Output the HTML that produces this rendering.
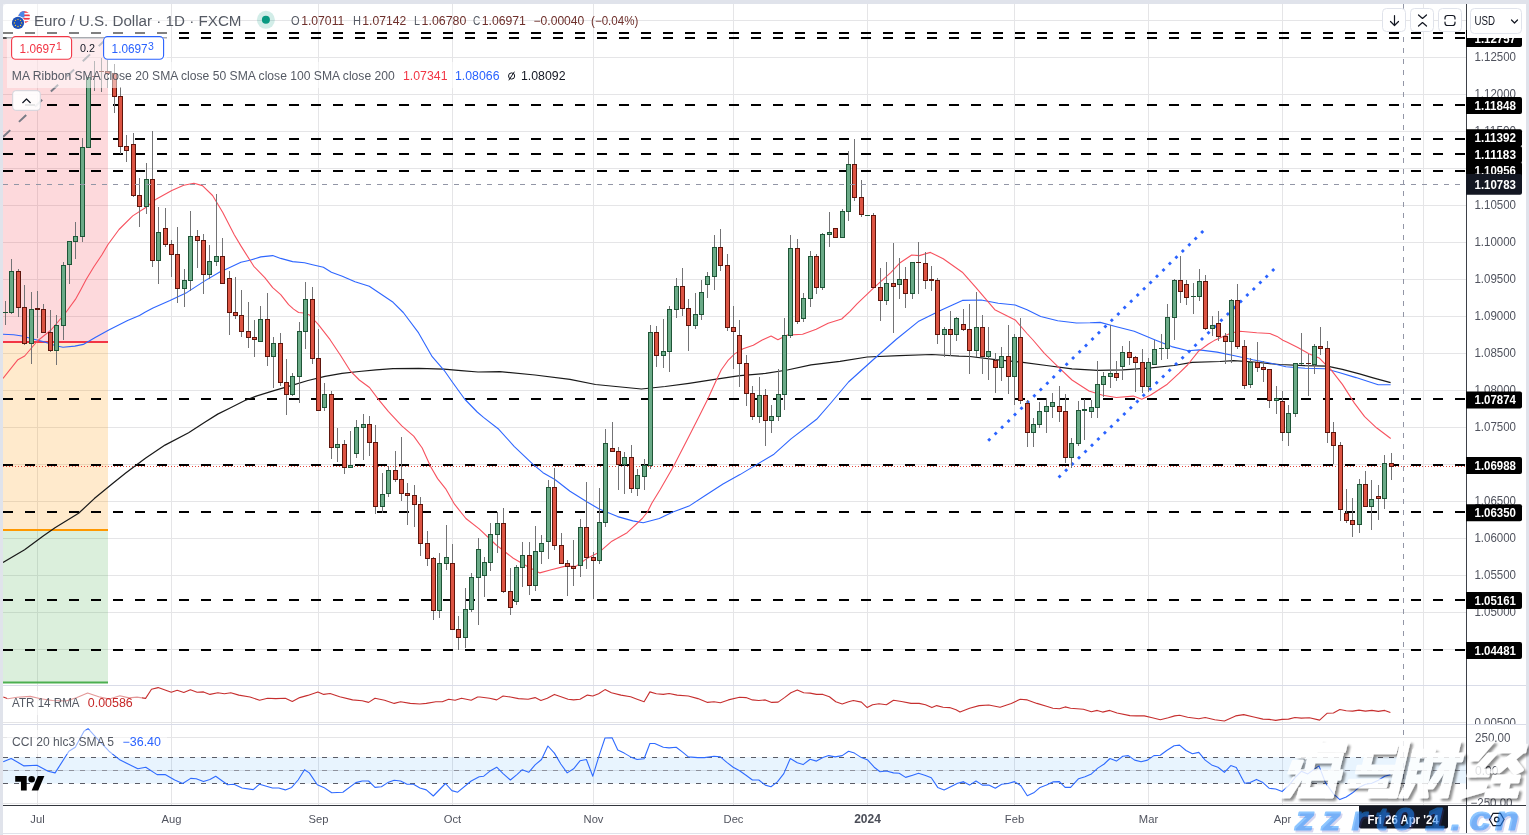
<!DOCTYPE html>
<html><head><meta charset="utf-8"><title>EURUSD chart</title>
<style>
html,body{margin:0;padding:0;background:#e0e3eb;}
body{width:1529px;height:835px;overflow:hidden;font-family:"Liberation Sans",sans-serif;}
svg{display:block;will-change:transform}
text{font-family:"Liberation Sans",sans-serif;}
</style></head><body>
<svg width="1529" height="835" viewBox="0 0 1529 835">
<defs>
<clipPath id="main"><rect x="3" y="4" width="1463" height="681"/></clipPath>
<clipPath id="atr"><rect x="3" y="685" width="1463" height="39"/></clipPath>
<clipPath id="cci"><rect x="3" y="724" width="1463" height="82"/></clipPath>
<clipPath id="axis1"><rect x="1466" y="4" width="60" height="681"/></clipPath>
<clipPath id="axis2"><rect x="1466" y="685" width="60" height="39"/></clipPath>
<clipPath id="axis3"><rect x="1466" y="724" width="60" height="82"/></clipPath>
<filter id="ws" x="-10%" y="-10%" width="130%" height="130%"><feDropShadow dx="2.6" dy="2.6" stdDeviation="1.1" flood-color="#000" flood-opacity="0.55"/></filter>
</defs>
<rect x="0" y="0" width="1529" height="835" fill="#e0e3eb"/>
<path d="M3 833 V8 a4 4 0 0 1 4 -4 H1522 a4 4 0 0 1 4 4 V833 Z" fill="#ffffff"/>
<rect x="3" y="834" width="1523" height="1" fill="#ffffff"/>

<line x1="37.5" y1="4" x2="37.5" y2="806" stroke="#e5e5e7" stroke-width="1"/>
<line x1="171.5" y1="4" x2="171.5" y2="806" stroke="#e5e5e7" stroke-width="1"/>
<line x1="318.5" y1="4" x2="318.5" y2="806" stroke="#e5e5e7" stroke-width="1"/>
<line x1="452.5" y1="4" x2="452.5" y2="806" stroke="#e5e5e7" stroke-width="1"/>
<line x1="593.5" y1="4" x2="593.5" y2="806" stroke="#e5e5e7" stroke-width="1"/>
<line x1="733.5" y1="4" x2="733.5" y2="806" stroke="#e5e5e7" stroke-width="1"/>
<line x1="867.5" y1="4" x2="867.5" y2="806" stroke="#e5e5e7" stroke-width="1"/>
<line x1="1014.5" y1="4" x2="1014.5" y2="806" stroke="#e5e5e7" stroke-width="1"/>
<line x1="1148.5" y1="4" x2="1148.5" y2="806" stroke="#e5e5e7" stroke-width="1"/>
<line x1="1282.5" y1="4" x2="1282.5" y2="806" stroke="#e5e5e7" stroke-width="1"/>
<line x1="1423.5" y1="4" x2="1423.5" y2="806" stroke="#e5e5e7" stroke-width="1"/>
<line x1="3" y1="20.5" x2="1466" y2="20.5" stroke="#e5e5e7" stroke-width="1"/>
<line x1="3" y1="57.5" x2="1466" y2="57.5" stroke="#e5e5e7" stroke-width="1"/>
<line x1="3" y1="94.5" x2="1466" y2="94.5" stroke="#e5e5e7" stroke-width="1"/>
<line x1="3" y1="131.5" x2="1466" y2="131.5" stroke="#e5e5e7" stroke-width="1"/>
<line x1="3" y1="168.5" x2="1466" y2="168.5" stroke="#e5e5e7" stroke-width="1"/>
<line x1="3" y1="205.5" x2="1466" y2="205.5" stroke="#e5e5e7" stroke-width="1"/>
<line x1="3" y1="242.5" x2="1466" y2="242.5" stroke="#e5e5e7" stroke-width="1"/>
<line x1="3" y1="279.5" x2="1466" y2="279.5" stroke="#e5e5e7" stroke-width="1"/>
<line x1="3" y1="316.5" x2="1466" y2="316.5" stroke="#e5e5e7" stroke-width="1"/>
<line x1="3" y1="353.5" x2="1466" y2="353.5" stroke="#e5e5e7" stroke-width="1"/>
<line x1="3" y1="390.5" x2="1466" y2="390.5" stroke="#e5e5e7" stroke-width="1"/>
<line x1="3" y1="427.5" x2="1466" y2="427.5" stroke="#e5e5e7" stroke-width="1"/>
<line x1="3" y1="464.5" x2="1466" y2="464.5" stroke="#e5e5e7" stroke-width="1"/>
<line x1="3" y1="501.5" x2="1466" y2="501.5" stroke="#e5e5e7" stroke-width="1"/>
<line x1="3" y1="538.5" x2="1466" y2="538.5" stroke="#e5e5e7" stroke-width="1"/>
<line x1="3" y1="575.5" x2="1466" y2="575.5" stroke="#e5e5e7" stroke-width="1"/>
<line x1="3" y1="612.5" x2="1466" y2="612.5" stroke="#e5e5e7" stroke-width="1"/>
<line x1="3" y1="649.5" x2="1466" y2="649.5" stroke="#e5e5e7" stroke-width="1"/>
<line x1="3" y1="737.5" x2="1466" y2="737.5" stroke="#e5e5e7" stroke-width="1"/>
<line x1="3" y1="770.5" x2="1466" y2="770.5" stroke="#e5e5e7" stroke-width="1"/>
<line x1="3" y1="803.5" x2="1466" y2="803.5" stroke="#e5e5e7" stroke-width="1"/>
<line x1="3" y1="722.5" x2="1466" y2="722.5" stroke="#e5e5e7" stroke-width="1"/>
<g clip-path="url(#main)">
<rect x="3" y="38" width="105" height="304" fill="#f23645" fill-opacity="0.19"/>
<rect x="3" y="342" width="105" height="188" fill="#ff9800" fill-opacity="0.2"/>
<rect x="3" y="530" width="105" height="152.5" fill="#4caf50" fill-opacity="0.2"/>
<line x1="3" y1="342" x2="108" y2="342" stroke="#f23645" stroke-width="2"/>
<line x1="3" y1="530" x2="108" y2="530" stroke="#ff9800" stroke-width="2"/>
<line x1="3" y1="682.5" x2="108" y2="682.5" stroke="#4caf50" stroke-width="2"/>
<line x1="3" y1="137" x2="109" y2="36.4" stroke="#787b86" stroke-width="2" stroke-dasharray="10 12" stroke-dashoffset="0"/>
<line x1="3" y1="33" x2="1466" y2="33" stroke="#000" stroke-width="2.1" stroke-dasharray="10 12"/>
<line x1="3" y1="38" x2="1466" y2="38" stroke="#000" stroke-width="2.1" stroke-dasharray="10 12"/>
<line x1="3" y1="105" x2="1466" y2="105" stroke="#000" stroke-width="2.1" stroke-dasharray="10 12"/>
<line x1="3" y1="139" x2="1466" y2="139" stroke="#000" stroke-width="2.1" stroke-dasharray="10 12"/>
<line x1="3" y1="154" x2="1466" y2="154" stroke="#000" stroke-width="2.1" stroke-dasharray="10 12"/>
<line x1="3" y1="171" x2="1466" y2="171" stroke="#000" stroke-width="2.1" stroke-dasharray="10 12"/>
<line x1="3" y1="399" x2="1466" y2="399" stroke="#000" stroke-width="2.1" stroke-dasharray="10 12"/>
<line x1="3" y1="465" x2="1466" y2="465" stroke="#000" stroke-width="2.1" stroke-dasharray="10 12"/>
<line x1="3" y1="512" x2="1466" y2="512" stroke="#000" stroke-width="2.1" stroke-dasharray="10 12"/>
<line x1="3" y1="600" x2="1466" y2="600" stroke="#000" stroke-width="2.1" stroke-dasharray="10 12"/>
<line x1="3" y1="650" x2="1466" y2="650" stroke="#000" stroke-width="2.1" stroke-dasharray="10 12"/>
<line x1="3" y1="466.5" x2="1466" y2="466.5" stroke="#e5473b" stroke-width="1" stroke-dasharray="1 2"/>
<path d="M3.0 562.4 L24.6 549.7 L43.2 535.9 L55.0 527.7 L78.6 513.3 L94.3 498.6 L112.0 483.9 L125.7 473.0 L145.4 458.3 L165.0 445.1 L188.6 432.8 L204.0 422.7 L217.7 414.1 L229.6 408.2 L244.9 400.5 L257.0 395.9 L274.0 390.7 L291.0 385.6 L308.0 380.5 L325.0 376.3 L342.0 373.4 L359.0 371.5 L376.0 369.8 L393.0 368.6 L418.6 368.3 L444.0 369.1 L461.0 370.7 L478.0 372.0 L500.0 371.7 L535.0 375.0 L570.0 379.4 L595.5 384.5 L621.0 387.0 L641.4 389.0 L665.2 386.5 L689.0 383.3 L714.6 379.4 L740.0 375.6 L765.6 373.4 L787.3 370.0 L811.0 364.9 L840.0 361.3 L867.2 357.0 L899.5 355.6 L931.8 354.5 L959.0 356.2 L970.0 356.5 L995.5 359.6 L1021.0 362.1 L1046.5 365.5 L1072.0 368.9 L1097.6 370.3 L1123.0 369.8 L1148.6 368.1 L1174.0 365.5 L1192.0 362.4 L1220.0 361.5 L1233.6 360.6 L1254.0 362.0 L1279.5 364.5 L1305.0 365.7 L1327.1 366.1 L1342.4 369.3 L1359.5 373.9 L1373.1 377.8 L1390.6 382.7" fill="none" stroke="#1a1a1a" stroke-width="1.25" stroke-linejoin="round"/>
<path d="M3.0 334.2 L13.6 334.7 L22.0 336.0 L34.0 339.3 L46.0 342.4 L56.0 345.8 L63.0 347.3 L74.8 346.1 L83.3 344.4 L95.2 337.6 L108.8 330.0 L127.6 320.6 L139.5 315.5 L145.4 312.0 L153.0 307.9 L170.0 300.6 L187.0 292.4 L204.0 281.4 L221.0 271.2 L225.0 269.8 L240.9 262.3 L249.9 260.3 L260.8 256.9 L272.7 255.6 L280.7 258.4 L292.6 261.6 L304.5 262.8 L312.5 264.8 L323.4 267.3 L331.4 272.3 L342.3 276.3 L355.0 281.7 L369.3 286.2 L393.1 302.3 L403.3 312.5 L418.6 332.9 L432.2 356.7 L444.1 370.3 L452.3 382.0 L464.6 399.0 L477.2 412.0 L483.5 417.4 L498.8 429.3 L514.1 446.3 L532.8 464.2 L543.0 472.7 L554.9 479.5 L570.0 491.3 L587.2 502.0 L598.7 508.8 L617.6 516.6 L632.8 520.9 L643.2 522.8 L659.3 518.5 L672.9 512.0 L689.0 506.1 L706.0 495.0 L723.0 484.0 L740.0 474.6 L757.0 464.4 L774.0 454.2 L791.0 438.9 L816.6 419.3 L830.0 404.0 L848.5 382.0 L874.0 359.0 L896.1 339.5 L918.2 321.6 L942.0 309.7 L962.4 300.4 L981.2 300.0 L998.2 303.3 L1015.2 305.0 L1027.0 309.7 L1040.7 316.5 L1057.7 320.8 L1076.4 323.0 L1090.0 322.8 L1100.2 322.4 L1115.5 326.5 L1134.2 331.3 L1154.6 339.8 L1171.6 346.6 L1188.2 350.7 L1199.2 349.9 L1217.1 352.1 L1234.6 355.8 L1252.8 359.8 L1269.8 363.0 L1285.9 366.8 L1305.0 368.3 L1325.4 368.8 L1339.0 372.5 L1356.0 377.6 L1378.2 384.8 L1390.6 384.8" fill="none" stroke="#2e66ff" stroke-width="1.1" stroke-linejoin="round"/>
<path d="M3.0 378.4 L17.9 359.7 L24.7 356.0 L37.4 341.0 L51.0 330.0 L55.3 325.0 L61.2 318.0 L66.2 312.0 L75.4 299.4 L80.5 290.2 L86.3 279.3 L93.9 266.7 L101.8 255.0 L108.0 244.5 L119.0 229.5 L132.7 215.9 L144.6 208.3 L156.5 198.9 L171.8 190.4 L183.7 185.3 L193.9 183.3 L202.4 185.6 L212.6 195.5 L222.8 212.5 L234.4 235.0 L240.9 245.9 L253.8 266.3 L264.8 277.7 L272.7 287.7 L280.7 294.6 L288.6 304.6 L293.6 309.1 L298.6 312.5 L303.5 313.0 L309.5 315.0 L318.2 324.4 L330.1 339.7 L340.3 355.0 L350.5 371.2 L359.3 380.0 L369.5 387.5 L378.0 398.9 L388.5 411.7 L401.8 425.9 L413.7 436.1 L422.2 448.0 L430.7 466.7 L437.6 478.6 L446.1 489.4 L454.5 504.2 L465.9 518.5 L479.2 528.9 L496.2 545.0 L513.3 558.3 L526.6 565.9 L539.8 572.9 L551.2 569.7 L564.5 566.4 L575.9 566.4 L587.3 558.3 L598.7 552.6 L611.9 541.2 L627.1 532.7 L642.3 518.5 L647.4 512.0 L651.8 503.3 L660.2 489.5 L673.7 466.1 L689.0 436.3 L699.3 415.9 L707.8 398.9 L716.3 380.2 L721.2 370.0 L727.8 360.7 L734.6 353.9 L743.1 348.7 L753.3 345.3 L761.8 340.2 L771.1 336.0 L777.9 339.7 L787.3 335.1 L802.6 334.3 L816.2 329.2 L828.1 323.2 L841.7 319.0 L850.0 311.3 L857.0 303.8 L874.0 287.6 L891.0 272.3 L900.1 262.7 L911.7 255.0 L919.4 255.6 L930.4 252.4 L943.2 258.7 L962.3 272.2 L976.0 287.6 L994.8 309.7 L1015.2 319.9 L1027.0 333.5 L1033.0 340.0 L1044.4 353.4 L1058.4 367.2 L1072.0 380.0 L1089.0 391.0 L1102.7 395.3 L1116.3 397.5 L1133.3 396.1 L1141.8 399.2 L1150.3 395.3 L1167.3 384.2 L1179.2 373.2 L1187.5 365.0 L1198.4 351.4 L1208.1 344.3 L1214.1 340.6 L1231.2 333.0 L1239.9 331.3 L1256.7 332.7 L1269.8 333.5 L1277.1 336.4 L1282.9 340.2 L1287.3 342.3 L1297.8 347.6 L1308.9 353.8 L1319.1 357.9 L1327.2 366.2 L1330.5 369.1 L1342.4 384.4 L1354.4 403.1 L1364.6 416.7 L1376.5 427.8 L1390.7 438.5" fill="none" stroke="#f7525f" stroke-width="1.1" stroke-linejoin="round"/>
<path d="M987.2 439.8 L989.2 437.8 L991.2 439.8 L989.2 441.8 Z" fill="#2962ff"/>
<path d="M993.7 433.5 L995.7 431.5 L997.7 433.5 L995.7 435.5 Z" fill="#2962ff"/>
<path d="M1000.1 427.2 L1002.1 425.2 L1004.1 427.2 L1002.1 429.2 Z" fill="#2962ff"/>
<path d="M1006.6 420.9 L1008.6 418.9 L1010.6 420.9 L1008.6 422.9 Z" fill="#2962ff"/>
<path d="M1013.0 414.6 L1015.0 412.6 L1017.0 414.6 L1015.0 416.6 Z" fill="#2962ff"/>
<path d="M1019.5 408.3 L1021.5 406.3 L1023.5 408.3 L1021.5 410.3 Z" fill="#2962ff"/>
<path d="M1025.9 402.0 L1027.9 400.0 L1029.9 402.0 L1027.9 404.0 Z" fill="#2962ff"/>
<path d="M1032.4 395.7 L1034.4 393.7 L1036.4 395.7 L1034.4 397.7 Z" fill="#2962ff"/>
<path d="M1038.8 389.4 L1040.8 387.4 L1042.8 389.4 L1040.8 391.4 Z" fill="#2962ff"/>
<path d="M1045.3 383.2 L1047.3 381.2 L1049.3 383.2 L1047.3 385.2 Z" fill="#2962ff"/>
<path d="M1051.7 376.9 L1053.7 374.9 L1055.7 376.9 L1053.7 378.9 Z" fill="#2962ff"/>
<path d="M1058.2 370.6 L1060.2 368.6 L1062.2 370.6 L1060.2 372.6 Z" fill="#2962ff"/>
<path d="M1064.7 364.3 L1066.7 362.3 L1068.7 364.3 L1066.7 366.3 Z" fill="#2962ff"/>
<path d="M1071.1 358.0 L1073.1 356.0 L1075.1 358.0 L1073.1 360.0 Z" fill="#2962ff"/>
<path d="M1077.6 351.7 L1079.6 349.7 L1081.6 351.7 L1079.6 353.7 Z" fill="#2962ff"/>
<path d="M1084.0 345.4 L1086.0 343.4 L1088.0 345.4 L1086.0 347.4 Z" fill="#2962ff"/>
<path d="M1090.5 339.1 L1092.5 337.1 L1094.5 339.1 L1092.5 341.1 Z" fill="#2962ff"/>
<path d="M1096.9 332.8 L1098.9 330.8 L1100.9 332.8 L1098.9 334.8 Z" fill="#2962ff"/>
<path d="M1103.4 326.5 L1105.4 324.5 L1107.4 326.5 L1105.4 328.5 Z" fill="#2962ff"/>
<path d="M1109.8 320.2 L1111.8 318.2 L1113.8 320.2 L1111.8 322.2 Z" fill="#2962ff"/>
<path d="M1116.3 313.9 L1118.3 311.9 L1120.3 313.9 L1118.3 315.9 Z" fill="#2962ff"/>
<path d="M1122.7 307.6 L1124.7 305.6 L1126.7 307.6 L1124.7 309.6 Z" fill="#2962ff"/>
<path d="M1129.2 301.3 L1131.2 299.3 L1133.2 301.3 L1131.2 303.3 Z" fill="#2962ff"/>
<path d="M1135.7 295.0 L1137.7 293.0 L1139.7 295.0 L1137.7 297.0 Z" fill="#2962ff"/>
<path d="M1142.1 288.7 L1144.1 286.7 L1146.1 288.7 L1144.1 290.7 Z" fill="#2962ff"/>
<path d="M1148.6 282.5 L1150.6 280.5 L1152.6 282.5 L1150.6 284.5 Z" fill="#2962ff"/>
<path d="M1155.0 276.2 L1157.0 274.2 L1159.0 276.2 L1157.0 278.2 Z" fill="#2962ff"/>
<path d="M1161.5 269.9 L1163.5 267.9 L1165.5 269.9 L1163.5 271.9 Z" fill="#2962ff"/>
<path d="M1167.9 263.6 L1169.9 261.6 L1171.9 263.6 L1169.9 265.6 Z" fill="#2962ff"/>
<path d="M1174.4 257.3 L1176.4 255.3 L1178.4 257.3 L1176.4 259.3 Z" fill="#2962ff"/>
<path d="M1180.8 251.0 L1182.8 249.0 L1184.8 251.0 L1182.8 253.0 Z" fill="#2962ff"/>
<path d="M1187.3 244.7 L1189.3 242.7 L1191.3 244.7 L1189.3 246.7 Z" fill="#2962ff"/>
<path d="M1193.7 238.4 L1195.7 236.4 L1197.7 238.4 L1195.7 240.4 Z" fill="#2962ff"/>
<path d="M1200.2 232.1 L1202.2 230.1 L1204.2 232.1 L1202.2 234.1 Z" fill="#2962ff"/>
<path d="M1057.6 476.6 L1059.6 474.6 L1061.6 476.6 L1059.6 478.6 Z" fill="#2962ff"/>
<path d="M1064.1 470.3 L1066.1 468.3 L1068.1 470.3 L1066.1 472.3 Z" fill="#2962ff"/>
<path d="M1070.5 464.1 L1072.5 462.1 L1074.5 464.1 L1072.5 466.1 Z" fill="#2962ff"/>
<path d="M1077.0 457.8 L1079.0 455.8 L1081.0 457.8 L1079.0 459.8 Z" fill="#2962ff"/>
<path d="M1083.5 451.6 L1085.5 449.6 L1087.5 451.6 L1085.5 453.6 Z" fill="#2962ff"/>
<path d="M1090.0 445.3 L1092.0 443.3 L1094.0 445.3 L1092.0 447.3 Z" fill="#2962ff"/>
<path d="M1096.4 439.1 L1098.4 437.1 L1100.4 439.1 L1098.4 441.1 Z" fill="#2962ff"/>
<path d="M1102.9 432.8 L1104.9 430.8 L1106.9 432.8 L1104.9 434.8 Z" fill="#2962ff"/>
<path d="M1109.4 426.5 L1111.4 424.5 L1113.4 426.5 L1111.4 428.5 Z" fill="#2962ff"/>
<path d="M1115.9 420.3 L1117.9 418.3 L1119.9 420.3 L1117.9 422.3 Z" fill="#2962ff"/>
<path d="M1122.3 414.0 L1124.3 412.0 L1126.3 414.0 L1124.3 416.0 Z" fill="#2962ff"/>
<path d="M1128.8 407.8 L1130.8 405.8 L1132.8 407.8 L1130.8 409.8 Z" fill="#2962ff"/>
<path d="M1135.3 401.5 L1137.3 399.5 L1139.3 401.5 L1137.3 403.5 Z" fill="#2962ff"/>
<path d="M1141.7 395.3 L1143.7 393.3 L1145.7 395.3 L1143.7 397.3 Z" fill="#2962ff"/>
<path d="M1148.2 389.0 L1150.2 387.0 L1152.2 389.0 L1150.2 391.0 Z" fill="#2962ff"/>
<path d="M1154.7 382.7 L1156.7 380.7 L1158.7 382.7 L1156.7 384.7 Z" fill="#2962ff"/>
<path d="M1161.2 376.5 L1163.2 374.5 L1165.2 376.5 L1163.2 378.5 Z" fill="#2962ff"/>
<path d="M1167.6 370.2 L1169.6 368.2 L1171.6 370.2 L1169.6 372.2 Z" fill="#2962ff"/>
<path d="M1174.1 364.0 L1176.1 362.0 L1178.1 364.0 L1176.1 366.0 Z" fill="#2962ff"/>
<path d="M1180.6 357.7 L1182.6 355.7 L1184.6 357.7 L1182.6 359.7 Z" fill="#2962ff"/>
<path d="M1187.1 351.4 L1189.1 349.4 L1191.1 351.4 L1189.1 353.4 Z" fill="#2962ff"/>
<path d="M1193.5 345.2 L1195.5 343.2 L1197.5 345.2 L1195.5 347.2 Z" fill="#2962ff"/>
<path d="M1200.0 338.9 L1202.0 336.9 L1204.0 338.9 L1202.0 340.9 Z" fill="#2962ff"/>
<path d="M1206.5 332.7 L1208.5 330.7 L1210.5 332.7 L1208.5 334.7 Z" fill="#2962ff"/>
<path d="M1212.9 326.4 L1214.9 324.4 L1216.9 326.4 L1214.9 328.4 Z" fill="#2962ff"/>
<path d="M1219.4 320.2 L1221.4 318.2 L1223.4 320.2 L1221.4 322.2 Z" fill="#2962ff"/>
<path d="M1225.9 313.9 L1227.9 311.9 L1229.9 313.9 L1227.9 315.9 Z" fill="#2962ff"/>
<path d="M1232.4 307.6 L1234.4 305.6 L1236.4 307.6 L1234.4 309.6 Z" fill="#2962ff"/>
<path d="M1238.8 301.4 L1240.8 299.4 L1242.8 301.4 L1240.8 303.4 Z" fill="#2962ff"/>
<path d="M1245.3 295.1 L1247.3 293.1 L1249.3 295.1 L1247.3 297.1 Z" fill="#2962ff"/>
<path d="M1251.8 288.9 L1253.8 286.9 L1255.8 288.9 L1253.8 290.9 Z" fill="#2962ff"/>
<path d="M1258.3 282.6 L1260.3 280.6 L1262.3 282.6 L1260.3 284.6 Z" fill="#2962ff"/>
<path d="M1264.7 276.4 L1266.7 274.4 L1268.7 276.4 L1266.7 278.4 Z" fill="#2962ff"/>
<path d="M1271.2 270.1 L1273.2 268.1 L1275.2 270.1 L1273.2 272.1 Z" fill="#2962ff"/>
<line x1="5.5" y1="301" x2="5.5" y2="325" stroke="#737375" stroke-width="1"/>
<rect x="3.0" y="312" width="5" height="1" fill="#1f5537"/>
<line x1="11.5" y1="259" x2="11.5" y2="314" stroke="#737375" stroke-width="1"/>
<rect x="9.5" y="271.5" width="4" height="41" fill="#6aaa87" stroke="#1f5537" stroke-width="1"/>
<line x1="18.5" y1="269" x2="18.5" y2="317" stroke="#737375" stroke-width="1"/>
<rect x="16.5" y="271.5" width="4" height="36" fill="#dc5443" stroke="#5e150c" stroke-width="1"/>
<line x1="24.5" y1="285" x2="24.5" y2="345" stroke="#737375" stroke-width="1"/>
<rect x="22.5" y="307.5" width="4" height="36" fill="#dc5443" stroke="#5e150c" stroke-width="1"/>
<line x1="31.5" y1="292" x2="31.5" y2="364" stroke="#737375" stroke-width="1"/>
<rect x="29.5" y="309.5" width="4" height="34" fill="#6aaa87" stroke="#1f5537" stroke-width="1"/>
<line x1="37.5" y1="291" x2="37.5" y2="338" stroke="#737375" stroke-width="1"/>
<rect x="35.0" y="308" width="5" height="2" fill="#5e150c"/>
<line x1="43.5" y1="304" x2="43.5" y2="333" stroke="#737375" stroke-width="1"/>
<rect x="41.5" y="309.5" width="4" height="23" fill="#dc5443" stroke="#5e150c" stroke-width="1"/>
<line x1="50.5" y1="310" x2="50.5" y2="352" stroke="#737375" stroke-width="1"/>
<rect x="48.5" y="332.5" width="4" height="18" fill="#dc5443" stroke="#5e150c" stroke-width="1"/>
<line x1="56.5" y1="315" x2="56.5" y2="365" stroke="#737375" stroke-width="1"/>
<rect x="54.5" y="325.5" width="4" height="25" fill="#6aaa87" stroke="#1f5537" stroke-width="1"/>
<line x1="63.5" y1="262" x2="63.5" y2="340" stroke="#737375" stroke-width="1"/>
<rect x="61.5" y="265.5" width="4" height="60" fill="#6aaa87" stroke="#1f5537" stroke-width="1"/>
<line x1="69.5" y1="241" x2="69.5" y2="284" stroke="#737375" stroke-width="1"/>
<rect x="67.5" y="241.5" width="4" height="23" fill="#6aaa87" stroke="#1f5537" stroke-width="1"/>
<line x1="75.5" y1="222" x2="75.5" y2="259" stroke="#737375" stroke-width="1"/>
<rect x="73.5" y="236.5" width="4" height="5" fill="#6aaa87" stroke="#1f5537" stroke-width="1"/>
<line x1="82.5" y1="138" x2="82.5" y2="242" stroke="#737375" stroke-width="1"/>
<rect x="80.5" y="147.5" width="4" height="89" fill="#6aaa87" stroke="#1f5537" stroke-width="1"/>
<line x1="88.5" y1="75" x2="88.5" y2="148" stroke="#737375" stroke-width="1"/>
<rect x="86.5" y="77.5" width="4" height="70" fill="#6aaa87" stroke="#1f5537" stroke-width="1"/>
<line x1="94.5" y1="61" x2="94.5" y2="91" stroke="#737375" stroke-width="1"/>
<rect x="92.0" y="76" width="5" height="1" fill="#5e150c"/>
<line x1="101.5" y1="58" x2="101.5" y2="92" stroke="#737375" stroke-width="1"/>
<rect x="99.0" y="71" width="5" height="1" fill="#5e150c"/>
<line x1="107.5" y1="60" x2="107.5" y2="88" stroke="#737375" stroke-width="1"/>
<rect x="105.5" y="71.5" width="4" height="2" fill="#dc5443" stroke="#5e150c" stroke-width="1"/>
<line x1="114.5" y1="64" x2="114.5" y2="113" stroke="#737375" stroke-width="1"/>
<rect x="112.5" y="73.5" width="4" height="23" fill="#dc5443" stroke="#5e150c" stroke-width="1"/>
<line x1="120.5" y1="87" x2="120.5" y2="154" stroke="#737375" stroke-width="1"/>
<rect x="118.5" y="96.5" width="4" height="50" fill="#dc5443" stroke="#5e150c" stroke-width="1"/>
<line x1="126.5" y1="135" x2="126.5" y2="162" stroke="#737375" stroke-width="1"/>
<rect x="124.5" y="146.5" width="4" height="4" fill="#dc5443" stroke="#5e150c" stroke-width="1"/>
<line x1="133.5" y1="133" x2="133.5" y2="197" stroke="#737375" stroke-width="1"/>
<rect x="131.5" y="144.5" width="4" height="51" fill="#dc5443" stroke="#5e150c" stroke-width="1"/>
<line x1="139.5" y1="178" x2="139.5" y2="227" stroke="#737375" stroke-width="1"/>
<rect x="137.5" y="195.5" width="4" height="11" fill="#dc5443" stroke="#5e150c" stroke-width="1"/>
<line x1="146.5" y1="163" x2="146.5" y2="214" stroke="#737375" stroke-width="1"/>
<rect x="144.5" y="179.5" width="4" height="27" fill="#6aaa87" stroke="#1f5537" stroke-width="1"/>
<line x1="152.5" y1="131" x2="152.5" y2="267" stroke="#737375" stroke-width="1"/>
<rect x="150.5" y="179.5" width="4" height="81" fill="#dc5443" stroke="#5e150c" stroke-width="1"/>
<line x1="158.5" y1="207" x2="158.5" y2="284" stroke="#737375" stroke-width="1"/>
<rect x="156.5" y="232.5" width="4" height="28" fill="#6aaa87" stroke="#1f5537" stroke-width="1"/>
<line x1="165.5" y1="208" x2="165.5" y2="247" stroke="#737375" stroke-width="1"/>
<rect x="163.5" y="228.5" width="4" height="16" fill="#dc5443" stroke="#5e150c" stroke-width="1"/>
<line x1="171.5" y1="240" x2="171.5" y2="277" stroke="#737375" stroke-width="1"/>
<rect x="169.5" y="244.5" width="4" height="10" fill="#dc5443" stroke="#5e150c" stroke-width="1"/>
<line x1="177.5" y1="227" x2="177.5" y2="303" stroke="#737375" stroke-width="1"/>
<rect x="175.5" y="254.5" width="4" height="34" fill="#dc5443" stroke="#5e150c" stroke-width="1"/>
<line x1="184.5" y1="269" x2="184.5" y2="307" stroke="#737375" stroke-width="1"/>
<rect x="182.5" y="280.5" width="4" height="8" fill="#6aaa87" stroke="#1f5537" stroke-width="1"/>
<line x1="190.5" y1="211" x2="190.5" y2="291" stroke="#737375" stroke-width="1"/>
<rect x="188.5" y="236.5" width="4" height="44" fill="#6aaa87" stroke="#1f5537" stroke-width="1"/>
<line x1="197.5" y1="230" x2="197.5" y2="268" stroke="#737375" stroke-width="1"/>
<rect x="195.5" y="236.5" width="4" height="4" fill="#dc5443" stroke="#5e150c" stroke-width="1"/>
<line x1="203.5" y1="234" x2="203.5" y2="294" stroke="#737375" stroke-width="1"/>
<rect x="201.5" y="240.5" width="4" height="34" fill="#dc5443" stroke="#5e150c" stroke-width="1"/>
<line x1="209.5" y1="245" x2="209.5" y2="279" stroke="#737375" stroke-width="1"/>
<rect x="207.5" y="261.5" width="4" height="13" fill="#6aaa87" stroke="#1f5537" stroke-width="1"/>
<line x1="216.5" y1="194" x2="216.5" y2="266" stroke="#737375" stroke-width="1"/>
<rect x="214.5" y="256.5" width="4" height="5" fill="#6aaa87" stroke="#1f5537" stroke-width="1"/>
<line x1="222.5" y1="238" x2="222.5" y2="284" stroke="#737375" stroke-width="1"/>
<rect x="220.5" y="256.5" width="4" height="27" fill="#dc5443" stroke="#5e150c" stroke-width="1"/>
<line x1="229.5" y1="271" x2="229.5" y2="335" stroke="#737375" stroke-width="1"/>
<rect x="227.5" y="278.5" width="4" height="34" fill="#dc5443" stroke="#5e150c" stroke-width="1"/>
<line x1="235.5" y1="277" x2="235.5" y2="319" stroke="#737375" stroke-width="1"/>
<rect x="233.5" y="312.5" width="4" height="3" fill="#dc5443" stroke="#5e150c" stroke-width="1"/>
<line x1="241.5" y1="290" x2="241.5" y2="337" stroke="#737375" stroke-width="1"/>
<rect x="239.5" y="315.5" width="4" height="16" fill="#dc5443" stroke="#5e150c" stroke-width="1"/>
<line x1="248.5" y1="302" x2="248.5" y2="348" stroke="#737375" stroke-width="1"/>
<rect x="246.5" y="331.5" width="4" height="6" fill="#dc5443" stroke="#5e150c" stroke-width="1"/>
<line x1="254.5" y1="320" x2="254.5" y2="357" stroke="#737375" stroke-width="1"/>
<rect x="252.5" y="337.5" width="4" height="2" fill="#dc5443" stroke="#5e150c" stroke-width="1"/>
<line x1="260.5" y1="306" x2="260.5" y2="342" stroke="#737375" stroke-width="1"/>
<rect x="258.5" y="319.5" width="4" height="22" fill="#6aaa87" stroke="#1f5537" stroke-width="1"/>
<line x1="267.5" y1="293" x2="267.5" y2="366" stroke="#737375" stroke-width="1"/>
<rect x="265.5" y="319.5" width="4" height="37" fill="#dc5443" stroke="#5e150c" stroke-width="1"/>
<line x1="273.5" y1="337" x2="273.5" y2="388" stroke="#737375" stroke-width="1"/>
<rect x="271.5" y="343.5" width="4" height="13" fill="#6aaa87" stroke="#1f5537" stroke-width="1"/>
<line x1="280.5" y1="333" x2="280.5" y2="386" stroke="#737375" stroke-width="1"/>
<rect x="278.5" y="343.5" width="4" height="39" fill="#dc5443" stroke="#5e150c" stroke-width="1"/>
<line x1="286.5" y1="359" x2="286.5" y2="415" stroke="#737375" stroke-width="1"/>
<rect x="284.5" y="382.5" width="4" height="12" fill="#dc5443" stroke="#5e150c" stroke-width="1"/>
<line x1="292.5" y1="373" x2="292.5" y2="396" stroke="#737375" stroke-width="1"/>
<rect x="290.5" y="376.5" width="4" height="18" fill="#6aaa87" stroke="#1f5537" stroke-width="1"/>
<line x1="299.5" y1="322" x2="299.5" y2="403" stroke="#737375" stroke-width="1"/>
<rect x="297.5" y="331.5" width="4" height="45" fill="#6aaa87" stroke="#1f5537" stroke-width="1"/>
<line x1="305.5" y1="282" x2="305.5" y2="349" stroke="#737375" stroke-width="1"/>
<rect x="303.5" y="299.5" width="4" height="32" fill="#6aaa87" stroke="#1f5537" stroke-width="1"/>
<line x1="312.5" y1="287" x2="312.5" y2="364" stroke="#737375" stroke-width="1"/>
<rect x="310.5" y="299.5" width="4" height="59" fill="#dc5443" stroke="#5e150c" stroke-width="1"/>
<line x1="318.5" y1="329" x2="318.5" y2="411" stroke="#737375" stroke-width="1"/>
<rect x="316.5" y="358.5" width="4" height="52" fill="#dc5443" stroke="#5e150c" stroke-width="1"/>
<line x1="324.5" y1="383" x2="324.5" y2="411" stroke="#737375" stroke-width="1"/>
<rect x="322.5" y="394.5" width="4" height="13" fill="#6aaa87" stroke="#1f5537" stroke-width="1"/>
<line x1="331.5" y1="391" x2="331.5" y2="459" stroke="#737375" stroke-width="1"/>
<rect x="329.5" y="394.5" width="4" height="53" fill="#dc5443" stroke="#5e150c" stroke-width="1"/>
<line x1="337.5" y1="428" x2="337.5" y2="462" stroke="#737375" stroke-width="1"/>
<rect x="335.5" y="444.5" width="4" height="3" fill="#6aaa87" stroke="#1f5537" stroke-width="1"/>
<line x1="344.5" y1="440" x2="344.5" y2="474" stroke="#737375" stroke-width="1"/>
<rect x="342.5" y="444.5" width="4" height="23" fill="#dc5443" stroke="#5e150c" stroke-width="1"/>
<line x1="350.5" y1="431" x2="350.5" y2="468" stroke="#737375" stroke-width="1"/>
<rect x="348.5" y="465.5" width="4" height="2" fill="#6aaa87" stroke="#1f5537" stroke-width="1"/>
<line x1="356.5" y1="420" x2="356.5" y2="458" stroke="#737375" stroke-width="1"/>
<rect x="354.5" y="427.5" width="4" height="26" fill="#6aaa87" stroke="#1f5537" stroke-width="1"/>
<line x1="363.5" y1="414" x2="363.5" y2="460" stroke="#737375" stroke-width="1"/>
<rect x="361.5" y="424.5" width="4" height="3" fill="#6aaa87" stroke="#1f5537" stroke-width="1"/>
<line x1="369.5" y1="416" x2="369.5" y2="456" stroke="#737375" stroke-width="1"/>
<rect x="367.5" y="424.5" width="4" height="18" fill="#dc5443" stroke="#5e150c" stroke-width="1"/>
<line x1="375.5" y1="425" x2="375.5" y2="514" stroke="#737375" stroke-width="1"/>
<rect x="373.5" y="442.5" width="4" height="64" fill="#dc5443" stroke="#5e150c" stroke-width="1"/>
<line x1="382.5" y1="473" x2="382.5" y2="513" stroke="#737375" stroke-width="1"/>
<rect x="380.5" y="494.5" width="4" height="12" fill="#6aaa87" stroke="#1f5537" stroke-width="1"/>
<line x1="388.5" y1="466" x2="388.5" y2="497" stroke="#737375" stroke-width="1"/>
<rect x="386.5" y="470.5" width="4" height="23" fill="#6aaa87" stroke="#1f5537" stroke-width="1"/>
<line x1="395.5" y1="451" x2="395.5" y2="482" stroke="#737375" stroke-width="1"/>
<rect x="393.5" y="470.5" width="4" height="9" fill="#dc5443" stroke="#5e150c" stroke-width="1"/>
<line x1="401.5" y1="437" x2="401.5" y2="501" stroke="#737375" stroke-width="1"/>
<rect x="399.5" y="479.5" width="4" height="14" fill="#dc5443" stroke="#5e150c" stroke-width="1"/>
<line x1="407.5" y1="483" x2="407.5" y2="525" stroke="#737375" stroke-width="1"/>
<rect x="405.5" y="493.5" width="4" height="2" fill="#dc5443" stroke="#5e150c" stroke-width="1"/>
<line x1="414.5" y1="485" x2="414.5" y2="527" stroke="#737375" stroke-width="1"/>
<rect x="412.5" y="495.5" width="4" height="9" fill="#dc5443" stroke="#5e150c" stroke-width="1"/>
<line x1="420.5" y1="497" x2="420.5" y2="556" stroke="#737375" stroke-width="1"/>
<rect x="418.5" y="504.5" width="4" height="39" fill="#dc5443" stroke="#5e150c" stroke-width="1"/>
<line x1="427.5" y1="531" x2="427.5" y2="566" stroke="#737375" stroke-width="1"/>
<rect x="425.5" y="543.5" width="4" height="15" fill="#dc5443" stroke="#5e150c" stroke-width="1"/>
<line x1="433.5" y1="557" x2="433.5" y2="620" stroke="#737375" stroke-width="1"/>
<rect x="431.5" y="558.5" width="4" height="52" fill="#dc5443" stroke="#5e150c" stroke-width="1"/>
<line x1="439.5" y1="553" x2="439.5" y2="618" stroke="#737375" stroke-width="1"/>
<rect x="437.5" y="563.5" width="4" height="47" fill="#6aaa87" stroke="#1f5537" stroke-width="1"/>
<line x1="446.5" y1="525" x2="446.5" y2="570" stroke="#737375" stroke-width="1"/>
<rect x="444.5" y="557.5" width="4" height="6" fill="#6aaa87" stroke="#1f5537" stroke-width="1"/>
<line x1="452.5" y1="544" x2="452.5" y2="630" stroke="#737375" stroke-width="1"/>
<rect x="450.5" y="563.5" width="4" height="66" fill="#dc5443" stroke="#5e150c" stroke-width="1"/>
<line x1="458.5" y1="616" x2="458.5" y2="650" stroke="#737375" stroke-width="1"/>
<rect x="456.5" y="629.5" width="4" height="8" fill="#dc5443" stroke="#5e150c" stroke-width="1"/>
<line x1="465.5" y1="588" x2="465.5" y2="648" stroke="#737375" stroke-width="1"/>
<rect x="463.5" y="609.5" width="4" height="28" fill="#6aaa87" stroke="#1f5537" stroke-width="1"/>
<line x1="471.5" y1="573" x2="471.5" y2="612" stroke="#737375" stroke-width="1"/>
<rect x="469.5" y="577.5" width="4" height="32" fill="#6aaa87" stroke="#1f5537" stroke-width="1"/>
<line x1="478.5" y1="538" x2="478.5" y2="625" stroke="#737375" stroke-width="1"/>
<rect x="476.5" y="549.5" width="4" height="28" fill="#6aaa87" stroke="#1f5537" stroke-width="1"/>
<line x1="484.5" y1="557" x2="484.5" y2="597" stroke="#737375" stroke-width="1"/>
<rect x="482.5" y="562.5" width="4" height="13" fill="#6aaa87" stroke="#1f5537" stroke-width="1"/>
<line x1="490.5" y1="523" x2="490.5" y2="571" stroke="#737375" stroke-width="1"/>
<rect x="488.5" y="534.5" width="4" height="28" fill="#6aaa87" stroke="#1f5537" stroke-width="1"/>
<line x1="497.5" y1="512" x2="497.5" y2="553" stroke="#737375" stroke-width="1"/>
<rect x="495.5" y="523.5" width="4" height="11" fill="#6aaa87" stroke="#1f5537" stroke-width="1"/>
<line x1="503.5" y1="508" x2="503.5" y2="593" stroke="#737375" stroke-width="1"/>
<rect x="501.5" y="523.5" width="4" height="68" fill="#dc5443" stroke="#5e150c" stroke-width="1"/>
<line x1="510.5" y1="568" x2="510.5" y2="615" stroke="#737375" stroke-width="1"/>
<rect x="508.5" y="591.5" width="4" height="16" fill="#dc5443" stroke="#5e150c" stroke-width="1"/>
<line x1="516.5" y1="565" x2="516.5" y2="605" stroke="#737375" stroke-width="1"/>
<rect x="514.5" y="567.5" width="4" height="34" fill="#6aaa87" stroke="#1f5537" stroke-width="1"/>
<line x1="522.5" y1="542" x2="522.5" y2="587" stroke="#737375" stroke-width="1"/>
<rect x="520.5" y="555.5" width="4" height="12" fill="#6aaa87" stroke="#1f5537" stroke-width="1"/>
<line x1="529.5" y1="542" x2="529.5" y2="595" stroke="#737375" stroke-width="1"/>
<rect x="527.5" y="555.5" width="4" height="30" fill="#dc5443" stroke="#5e150c" stroke-width="1"/>
<line x1="535.5" y1="526" x2="535.5" y2="591" stroke="#737375" stroke-width="1"/>
<rect x="533.5" y="551.5" width="4" height="34" fill="#6aaa87" stroke="#1f5537" stroke-width="1"/>
<line x1="541.5" y1="535" x2="541.5" y2="564" stroke="#737375" stroke-width="1"/>
<rect x="539.5" y="543.5" width="4" height="8" fill="#6aaa87" stroke="#1f5537" stroke-width="1"/>
<line x1="548.5" y1="480" x2="548.5" y2="559" stroke="#737375" stroke-width="1"/>
<rect x="546.5" y="487.5" width="4" height="54" fill="#6aaa87" stroke="#1f5537" stroke-width="1"/>
<line x1="554.5" y1="468" x2="554.5" y2="550" stroke="#737375" stroke-width="1"/>
<rect x="552.5" y="487.5" width="4" height="58" fill="#dc5443" stroke="#5e150c" stroke-width="1"/>
<line x1="561.5" y1="533" x2="561.5" y2="564" stroke="#737375" stroke-width="1"/>
<rect x="559.5" y="545.5" width="4" height="18" fill="#dc5443" stroke="#5e150c" stroke-width="1"/>
<line x1="567.5" y1="560" x2="567.5" y2="596" stroke="#737375" stroke-width="1"/>
<rect x="565.5" y="563.5" width="4" height="3" fill="#dc5443" stroke="#5e150c" stroke-width="1"/>
<line x1="573.5" y1="540" x2="573.5" y2="586" stroke="#737375" stroke-width="1"/>
<rect x="571.5" y="566.5" width="4" height="2" fill="#dc5443" stroke="#5e150c" stroke-width="1"/>
<line x1="580.5" y1="519" x2="580.5" y2="577" stroke="#737375" stroke-width="1"/>
<rect x="578.5" y="527.5" width="4" height="38" fill="#6aaa87" stroke="#1f5537" stroke-width="1"/>
<line x1="586.5" y1="482" x2="586.5" y2="569" stroke="#737375" stroke-width="1"/>
<rect x="584.5" y="527.5" width="4" height="30" fill="#dc5443" stroke="#5e150c" stroke-width="1"/>
<line x1="593.5" y1="552" x2="593.5" y2="599" stroke="#737375" stroke-width="1"/>
<rect x="591.5" y="557.5" width="4" height="3" fill="#dc5443" stroke="#5e150c" stroke-width="1"/>
<line x1="599.5" y1="488" x2="599.5" y2="564" stroke="#737375" stroke-width="1"/>
<rect x="597.5" y="522.5" width="4" height="38" fill="#6aaa87" stroke="#1f5537" stroke-width="1"/>
<line x1="605.5" y1="429" x2="605.5" y2="527" stroke="#737375" stroke-width="1"/>
<rect x="603.5" y="443.5" width="4" height="79" fill="#6aaa87" stroke="#1f5537" stroke-width="1"/>
<line x1="612.5" y1="422" x2="612.5" y2="452" stroke="#737375" stroke-width="1"/>
<rect x="610.5" y="448.5" width="4" height="3" fill="#dc5443" stroke="#5e150c" stroke-width="1"/>
<line x1="618.5" y1="447" x2="618.5" y2="490" stroke="#737375" stroke-width="1"/>
<rect x="616.5" y="451.5" width="4" height="13" fill="#dc5443" stroke="#5e150c" stroke-width="1"/>
<line x1="624.5" y1="452" x2="624.5" y2="494" stroke="#737375" stroke-width="1"/>
<rect x="622.5" y="457.5" width="4" height="7" fill="#6aaa87" stroke="#1f5537" stroke-width="1"/>
<line x1="631.5" y1="445" x2="631.5" y2="493" stroke="#737375" stroke-width="1"/>
<rect x="629.5" y="457.5" width="4" height="31" fill="#dc5443" stroke="#5e150c" stroke-width="1"/>
<line x1="637.5" y1="469" x2="637.5" y2="496" stroke="#737375" stroke-width="1"/>
<rect x="635.5" y="475.5" width="4" height="13" fill="#6aaa87" stroke="#1f5537" stroke-width="1"/>
<line x1="644.5" y1="459" x2="644.5" y2="490" stroke="#737375" stroke-width="1"/>
<rect x="642.5" y="465.5" width="4" height="11" fill="#6aaa87" stroke="#1f5537" stroke-width="1"/>
<line x1="650.5" y1="325" x2="650.5" y2="469" stroke="#737375" stroke-width="1"/>
<rect x="648.5" y="332.5" width="4" height="133" fill="#6aaa87" stroke="#1f5537" stroke-width="1"/>
<line x1="656.5" y1="326" x2="656.5" y2="367" stroke="#737375" stroke-width="1"/>
<rect x="654.5" y="332.5" width="4" height="23" fill="#dc5443" stroke="#5e150c" stroke-width="1"/>
<line x1="663.5" y1="319" x2="663.5" y2="368" stroke="#737375" stroke-width="1"/>
<rect x="661.5" y="351.5" width="4" height="4" fill="#6aaa87" stroke="#1f5537" stroke-width="1"/>
<line x1="669.5" y1="306" x2="669.5" y2="372" stroke="#737375" stroke-width="1"/>
<rect x="667.5" y="309.5" width="4" height="42" fill="#6aaa87" stroke="#1f5537" stroke-width="1"/>
<line x1="676.5" y1="278" x2="676.5" y2="318" stroke="#737375" stroke-width="1"/>
<rect x="674.5" y="286.5" width="4" height="23" fill="#6aaa87" stroke="#1f5537" stroke-width="1"/>
<line x1="682.5" y1="268" x2="682.5" y2="316" stroke="#737375" stroke-width="1"/>
<rect x="680.5" y="286.5" width="4" height="22" fill="#dc5443" stroke="#5e150c" stroke-width="1"/>
<line x1="688.5" y1="299" x2="688.5" y2="351" stroke="#737375" stroke-width="1"/>
<rect x="686.5" y="308.5" width="4" height="17" fill="#dc5443" stroke="#5e150c" stroke-width="1"/>
<line x1="695.5" y1="293" x2="695.5" y2="329" stroke="#737375" stroke-width="1"/>
<rect x="693.5" y="314.5" width="4" height="11" fill="#6aaa87" stroke="#1f5537" stroke-width="1"/>
<line x1="701.5" y1="280" x2="701.5" y2="320" stroke="#737375" stroke-width="1"/>
<rect x="699.5" y="292.5" width="4" height="22" fill="#6aaa87" stroke="#1f5537" stroke-width="1"/>
<line x1="707.5" y1="272" x2="707.5" y2="298" stroke="#737375" stroke-width="1"/>
<rect x="705.5" y="276.5" width="4" height="8" fill="#6aaa87" stroke="#1f5537" stroke-width="1"/>
<line x1="714.5" y1="235" x2="714.5" y2="290" stroke="#737375" stroke-width="1"/>
<rect x="712.5" y="247.5" width="4" height="29" fill="#6aaa87" stroke="#1f5537" stroke-width="1"/>
<line x1="720.5" y1="229" x2="720.5" y2="271" stroke="#737375" stroke-width="1"/>
<rect x="718.5" y="247.5" width="4" height="18" fill="#dc5443" stroke="#5e150c" stroke-width="1"/>
<line x1="727.5" y1="254" x2="727.5" y2="331" stroke="#737375" stroke-width="1"/>
<rect x="725.5" y="265.5" width="4" height="62" fill="#dc5443" stroke="#5e150c" stroke-width="1"/>
<line x1="733.5" y1="306" x2="733.5" y2="369" stroke="#737375" stroke-width="1"/>
<rect x="731.5" y="327.5" width="4" height="4" fill="#dc5443" stroke="#5e150c" stroke-width="1"/>
<line x1="739.5" y1="320" x2="739.5" y2="387" stroke="#737375" stroke-width="1"/>
<rect x="737.5" y="335.5" width="4" height="28" fill="#dc5443" stroke="#5e150c" stroke-width="1"/>
<line x1="746.5" y1="355" x2="746.5" y2="406" stroke="#737375" stroke-width="1"/>
<rect x="744.5" y="363.5" width="4" height="30" fill="#dc5443" stroke="#5e150c" stroke-width="1"/>
<line x1="752.5" y1="386" x2="752.5" y2="420" stroke="#737375" stroke-width="1"/>
<rect x="750.5" y="393.5" width="4" height="23" fill="#dc5443" stroke="#5e150c" stroke-width="1"/>
<line x1="759.5" y1="377" x2="759.5" y2="423" stroke="#737375" stroke-width="1"/>
<rect x="757.5" y="395.5" width="4" height="21" fill="#6aaa87" stroke="#1f5537" stroke-width="1"/>
<line x1="765.5" y1="389" x2="765.5" y2="446" stroke="#737375" stroke-width="1"/>
<rect x="763.5" y="395.5" width="4" height="25" fill="#dc5443" stroke="#5e150c" stroke-width="1"/>
<line x1="771.5" y1="405" x2="771.5" y2="433" stroke="#737375" stroke-width="1"/>
<rect x="769.5" y="416.5" width="4" height="4" fill="#6aaa87" stroke="#1f5537" stroke-width="1"/>
<line x1="778.5" y1="369" x2="778.5" y2="421" stroke="#737375" stroke-width="1"/>
<rect x="776.5" y="394.5" width="4" height="22" fill="#6aaa87" stroke="#1f5537" stroke-width="1"/>
<line x1="784.5" y1="318" x2="784.5" y2="410" stroke="#737375" stroke-width="1"/>
<rect x="782.5" y="335.5" width="4" height="59" fill="#6aaa87" stroke="#1f5537" stroke-width="1"/>
<line x1="790.5" y1="235" x2="790.5" y2="338" stroke="#737375" stroke-width="1"/>
<rect x="788.5" y="248.5" width="4" height="87" fill="#6aaa87" stroke="#1f5537" stroke-width="1"/>
<line x1="797.5" y1="239" x2="797.5" y2="324" stroke="#737375" stroke-width="1"/>
<rect x="795.5" y="248.5" width="4" height="73" fill="#dc5443" stroke="#5e150c" stroke-width="1"/>
<line x1="803.5" y1="293" x2="803.5" y2="322" stroke="#737375" stroke-width="1"/>
<rect x="801.5" y="298.5" width="4" height="20" fill="#6aaa87" stroke="#1f5537" stroke-width="1"/>
<line x1="810.5" y1="251" x2="810.5" y2="307" stroke="#737375" stroke-width="1"/>
<rect x="808.5" y="256.5" width="4" height="42" fill="#6aaa87" stroke="#1f5537" stroke-width="1"/>
<line x1="816.5" y1="254" x2="816.5" y2="294" stroke="#737375" stroke-width="1"/>
<rect x="814.5" y="256.5" width="4" height="31" fill="#dc5443" stroke="#5e150c" stroke-width="1"/>
<line x1="822.5" y1="233" x2="822.5" y2="290" stroke="#737375" stroke-width="1"/>
<rect x="820.5" y="234.5" width="4" height="53" fill="#6aaa87" stroke="#1f5537" stroke-width="1"/>
<line x1="829.5" y1="212" x2="829.5" y2="247" stroke="#737375" stroke-width="1"/>
<rect x="827.5" y="232.5" width="4" height="2" fill="#6aaa87" stroke="#1f5537" stroke-width="1"/>
<line x1="835.5" y1="228" x2="835.5" y2="238" stroke="#737375" stroke-width="1"/>
<rect x="833.5" y="228.5" width="4" height="9" fill="#dc5443" stroke="#5e150c" stroke-width="1"/>
<line x1="842.5" y1="209" x2="842.5" y2="238" stroke="#737375" stroke-width="1"/>
<rect x="840.5" y="211.5" width="4" height="26" fill="#6aaa87" stroke="#1f5537" stroke-width="1"/>
<line x1="848.5" y1="151" x2="848.5" y2="221" stroke="#737375" stroke-width="1"/>
<rect x="846.5" y="164.5" width="4" height="47" fill="#6aaa87" stroke="#1f5537" stroke-width="1"/>
<line x1="854.5" y1="139" x2="854.5" y2="201" stroke="#737375" stroke-width="1"/>
<rect x="852.5" y="164.5" width="4" height="33" fill="#dc5443" stroke="#5e150c" stroke-width="1"/>
<line x1="861.5" y1="180" x2="861.5" y2="217" stroke="#737375" stroke-width="1"/>
<rect x="859.5" y="197.5" width="4" height="17" fill="#dc5443" stroke="#5e150c" stroke-width="1"/>
<line x1="867.5" y1="215" x2="867.5" y2="216" stroke="#737375" stroke-width="1"/>
<rect x="865.0" y="215" width="5" height="1" fill="#1f5537"/>
<line x1="873.5" y1="213" x2="873.5" y2="288" stroke="#737375" stroke-width="1"/>
<rect x="871.5" y="215.5" width="4" height="72" fill="#dc5443" stroke="#5e150c" stroke-width="1"/>
<line x1="880.5" y1="268" x2="880.5" y2="321" stroke="#737375" stroke-width="1"/>
<rect x="878.5" y="287.5" width="4" height="13" fill="#dc5443" stroke="#5e150c" stroke-width="1"/>
<line x1="886.5" y1="262" x2="886.5" y2="305" stroke="#737375" stroke-width="1"/>
<rect x="884.5" y="283.5" width="4" height="17" fill="#6aaa87" stroke="#1f5537" stroke-width="1"/>
<line x1="893.5" y1="243" x2="893.5" y2="333" stroke="#737375" stroke-width="1"/>
<rect x="891.5" y="283.5" width="4" height="3" fill="#dc5443" stroke="#5e150c" stroke-width="1"/>
<line x1="899.5" y1="258" x2="899.5" y2="299" stroke="#737375" stroke-width="1"/>
<rect x="897.5" y="279.5" width="4" height="5" fill="#6aaa87" stroke="#1f5537" stroke-width="1"/>
<line x1="905.5" y1="267" x2="905.5" y2="308" stroke="#737375" stroke-width="1"/>
<rect x="903.5" y="279.5" width="4" height="14" fill="#dc5443" stroke="#5e150c" stroke-width="1"/>
<line x1="912.5" y1="262" x2="912.5" y2="299" stroke="#737375" stroke-width="1"/>
<rect x="910.5" y="262.5" width="4" height="31" fill="#6aaa87" stroke="#1f5537" stroke-width="1"/>
<line x1="918.5" y1="242" x2="918.5" y2="294" stroke="#737375" stroke-width="1"/>
<rect x="916.0" y="262" width="5" height="1" fill="#5e150c"/>
<line x1="925.5" y1="252" x2="925.5" y2="289" stroke="#737375" stroke-width="1"/>
<rect x="923.5" y="263.5" width="4" height="17" fill="#dc5443" stroke="#5e150c" stroke-width="1"/>
<line x1="931.5" y1="266" x2="931.5" y2="291" stroke="#737375" stroke-width="1"/>
<rect x="929.0" y="279" width="5" height="2" fill="#5e150c"/>
<line x1="937.5" y1="278" x2="937.5" y2="344" stroke="#737375" stroke-width="1"/>
<rect x="935.5" y="280.5" width="4" height="54" fill="#dc5443" stroke="#5e150c" stroke-width="1"/>
<line x1="944.5" y1="327" x2="944.5" y2="357" stroke="#737375" stroke-width="1"/>
<rect x="942.5" y="329.5" width="4" height="5" fill="#6aaa87" stroke="#1f5537" stroke-width="1"/>
<line x1="950.5" y1="311" x2="950.5" y2="356" stroke="#737375" stroke-width="1"/>
<rect x="948.5" y="329.5" width="4" height="5" fill="#dc5443" stroke="#5e150c" stroke-width="1"/>
<line x1="956.5" y1="317" x2="956.5" y2="341" stroke="#737375" stroke-width="1"/>
<rect x="954.5" y="318.5" width="4" height="16" fill="#6aaa87" stroke="#1f5537" stroke-width="1"/>
<line x1="963.5" y1="309" x2="963.5" y2="331" stroke="#737375" stroke-width="1"/>
<rect x="961.5" y="324.5" width="4" height="5" fill="#dc5443" stroke="#5e150c" stroke-width="1"/>
<line x1="969.5" y1="304" x2="969.5" y2="374" stroke="#737375" stroke-width="1"/>
<rect x="967.5" y="329.5" width="4" height="21" fill="#dc5443" stroke="#5e150c" stroke-width="1"/>
<line x1="976.5" y1="292" x2="976.5" y2="357" stroke="#737375" stroke-width="1"/>
<rect x="974.5" y="327.5" width="4" height="23" fill="#6aaa87" stroke="#1f5537" stroke-width="1"/>
<line x1="982.5" y1="315" x2="982.5" y2="374" stroke="#737375" stroke-width="1"/>
<rect x="980.5" y="327.5" width="4" height="29" fill="#dc5443" stroke="#5e150c" stroke-width="1"/>
<line x1="988.5" y1="327" x2="988.5" y2="380" stroke="#737375" stroke-width="1"/>
<rect x="986.5" y="351.5" width="4" height="5" fill="#6aaa87" stroke="#1f5537" stroke-width="1"/>
<line x1="995.5" y1="353" x2="995.5" y2="393" stroke="#737375" stroke-width="1"/>
<rect x="993.5" y="360.5" width="4" height="7" fill="#dc5443" stroke="#5e150c" stroke-width="1"/>
<line x1="1001.5" y1="347" x2="1001.5" y2="381" stroke="#737375" stroke-width="1"/>
<rect x="999.5" y="356.5" width="4" height="11" fill="#6aaa87" stroke="#1f5537" stroke-width="1"/>
<line x1="1008.5" y1="325" x2="1008.5" y2="394" stroke="#737375" stroke-width="1"/>
<rect x="1006.5" y="356.5" width="4" height="20" fill="#dc5443" stroke="#5e150c" stroke-width="1"/>
<line x1="1014.5" y1="334" x2="1014.5" y2="405" stroke="#737375" stroke-width="1"/>
<rect x="1012.5" y="337.5" width="4" height="39" fill="#6aaa87" stroke="#1f5537" stroke-width="1"/>
<line x1="1020.5" y1="318" x2="1020.5" y2="404" stroke="#737375" stroke-width="1"/>
<rect x="1018.5" y="337.5" width="4" height="63" fill="#dc5443" stroke="#5e150c" stroke-width="1"/>
<line x1="1027.5" y1="400" x2="1027.5" y2="447" stroke="#737375" stroke-width="1"/>
<rect x="1025.5" y="403.5" width="4" height="29" fill="#dc5443" stroke="#5e150c" stroke-width="1"/>
<line x1="1033.5" y1="418" x2="1033.5" y2="447" stroke="#737375" stroke-width="1"/>
<rect x="1031.5" y="424.5" width="4" height="8" fill="#6aaa87" stroke="#1f5537" stroke-width="1"/>
<line x1="1039.5" y1="402" x2="1039.5" y2="428" stroke="#737375" stroke-width="1"/>
<rect x="1037.5" y="411.5" width="4" height="13" fill="#6aaa87" stroke="#1f5537" stroke-width="1"/>
<line x1="1046.5" y1="398" x2="1046.5" y2="433" stroke="#737375" stroke-width="1"/>
<rect x="1044.5" y="406.5" width="4" height="5" fill="#6aaa87" stroke="#1f5537" stroke-width="1"/>
<line x1="1052.5" y1="393" x2="1052.5" y2="418" stroke="#737375" stroke-width="1"/>
<rect x="1050.5" y="402.5" width="4" height="4" fill="#6aaa87" stroke="#1f5537" stroke-width="1"/>
<line x1="1059.5" y1="386" x2="1059.5" y2="422" stroke="#737375" stroke-width="1"/>
<rect x="1057.5" y="406.5" width="4" height="5" fill="#dc5443" stroke="#5e150c" stroke-width="1"/>
<line x1="1065.5" y1="394" x2="1065.5" y2="463" stroke="#737375" stroke-width="1"/>
<rect x="1063.5" y="411.5" width="4" height="46" fill="#dc5443" stroke="#5e150c" stroke-width="1"/>
<line x1="1071.5" y1="438" x2="1071.5" y2="468" stroke="#737375" stroke-width="1"/>
<rect x="1069.5" y="443.5" width="4" height="14" fill="#6aaa87" stroke="#1f5537" stroke-width="1"/>
<line x1="1078.5" y1="401" x2="1078.5" y2="446" stroke="#737375" stroke-width="1"/>
<rect x="1076.5" y="410.5" width="4" height="33" fill="#6aaa87" stroke="#1f5537" stroke-width="1"/>
<line x1="1084.5" y1="399" x2="1084.5" y2="440" stroke="#737375" stroke-width="1"/>
<rect x="1082.0" y="409" width="5" height="2" fill="#1f5537"/>
<line x1="1091.5" y1="400" x2="1091.5" y2="418" stroke="#737375" stroke-width="1"/>
<rect x="1089.5" y="407.5" width="4" height="4" fill="#6aaa87" stroke="#1f5537" stroke-width="1"/>
<line x1="1097.5" y1="361" x2="1097.5" y2="418" stroke="#737375" stroke-width="1"/>
<rect x="1095.5" y="384.5" width="4" height="23" fill="#6aaa87" stroke="#1f5537" stroke-width="1"/>
<line x1="1103.5" y1="372" x2="1103.5" y2="397" stroke="#737375" stroke-width="1"/>
<rect x="1101.5" y="376.5" width="4" height="8" fill="#6aaa87" stroke="#1f5537" stroke-width="1"/>
<line x1="1110.5" y1="325" x2="1110.5" y2="388" stroke="#737375" stroke-width="1"/>
<rect x="1108.5" y="373.5" width="4" height="3" fill="#6aaa87" stroke="#1f5537" stroke-width="1"/>
<line x1="1116.5" y1="361" x2="1116.5" y2="381" stroke="#737375" stroke-width="1"/>
<rect x="1114.5" y="373.5" width="4" height="4" fill="#dc5443" stroke="#5e150c" stroke-width="1"/>
<line x1="1122.5" y1="346" x2="1122.5" y2="380" stroke="#737375" stroke-width="1"/>
<rect x="1120.5" y="352.5" width="4" height="14" fill="#6aaa87" stroke="#1f5537" stroke-width="1"/>
<line x1="1129.5" y1="341" x2="1129.5" y2="365" stroke="#737375" stroke-width="1"/>
<rect x="1127.5" y="352.5" width="4" height="5" fill="#dc5443" stroke="#5e150c" stroke-width="1"/>
<line x1="1135.5" y1="356" x2="1135.5" y2="392" stroke="#737375" stroke-width="1"/>
<rect x="1133.5" y="357.5" width="4" height="5" fill="#dc5443" stroke="#5e150c" stroke-width="1"/>
<line x1="1142.5" y1="349" x2="1142.5" y2="393" stroke="#737375" stroke-width="1"/>
<rect x="1140.5" y="362.5" width="4" height="24" fill="#dc5443" stroke="#5e150c" stroke-width="1"/>
<line x1="1148.5" y1="358" x2="1148.5" y2="392" stroke="#737375" stroke-width="1"/>
<rect x="1146.5" y="362.5" width="4" height="24" fill="#6aaa87" stroke="#1f5537" stroke-width="1"/>
<line x1="1154.5" y1="340" x2="1154.5" y2="365" stroke="#737375" stroke-width="1"/>
<rect x="1152.5" y="349.5" width="4" height="15" fill="#6aaa87" stroke="#1f5537" stroke-width="1"/>
<line x1="1161.5" y1="334" x2="1161.5" y2="360" stroke="#737375" stroke-width="1"/>
<rect x="1159.0" y="348" width="5" height="1" fill="#1f5537"/>
<line x1="1167.5" y1="304" x2="1167.5" y2="359" stroke="#737375" stroke-width="1"/>
<rect x="1165.5" y="317.5" width="4" height="31" fill="#6aaa87" stroke="#1f5537" stroke-width="1"/>
<line x1="1174.5" y1="279" x2="1174.5" y2="340" stroke="#737375" stroke-width="1"/>
<rect x="1172.5" y="280.5" width="4" height="37" fill="#6aaa87" stroke="#1f5537" stroke-width="1"/>
<line x1="1180.5" y1="256" x2="1180.5" y2="303" stroke="#737375" stroke-width="1"/>
<rect x="1178.5" y="280.5" width="4" height="11" fill="#dc5443" stroke="#5e150c" stroke-width="1"/>
<line x1="1186.5" y1="280" x2="1186.5" y2="305" stroke="#737375" stroke-width="1"/>
<rect x="1184.5" y="284.5" width="4" height="13" fill="#dc5443" stroke="#5e150c" stroke-width="1"/>
<line x1="1193.5" y1="283" x2="1193.5" y2="314" stroke="#737375" stroke-width="1"/>
<rect x="1191.0" y="296" width="5" height="1" fill="#1f5537"/>
<line x1="1199.5" y1="269" x2="1199.5" y2="301" stroke="#737375" stroke-width="1"/>
<rect x="1197.5" y="281.5" width="4" height="15" fill="#6aaa87" stroke="#1f5537" stroke-width="1"/>
<line x1="1205.5" y1="275" x2="1205.5" y2="330" stroke="#737375" stroke-width="1"/>
<rect x="1203.5" y="281.5" width="4" height="47" fill="#dc5443" stroke="#5e150c" stroke-width="1"/>
<line x1="1212.5" y1="316" x2="1212.5" y2="336" stroke="#737375" stroke-width="1"/>
<rect x="1210.5" y="325.5" width="4" height="3" fill="#6aaa87" stroke="#1f5537" stroke-width="1"/>
<line x1="1218.5" y1="311" x2="1218.5" y2="341" stroke="#737375" stroke-width="1"/>
<rect x="1216.5" y="323.5" width="4" height="13" fill="#dc5443" stroke="#5e150c" stroke-width="1"/>
<line x1="1225.5" y1="333" x2="1225.5" y2="364" stroke="#737375" stroke-width="1"/>
<rect x="1223.5" y="336.5" width="4" height="5" fill="#dc5443" stroke="#5e150c" stroke-width="1"/>
<line x1="1231.5" y1="299" x2="1231.5" y2="363" stroke="#737375" stroke-width="1"/>
<rect x="1229.5" y="300.5" width="4" height="41" fill="#6aaa87" stroke="#1f5537" stroke-width="1"/>
<line x1="1237.5" y1="284" x2="1237.5" y2="349" stroke="#737375" stroke-width="1"/>
<rect x="1235.5" y="300.5" width="4" height="46" fill="#dc5443" stroke="#5e150c" stroke-width="1"/>
<line x1="1244.5" y1="340" x2="1244.5" y2="389" stroke="#737375" stroke-width="1"/>
<rect x="1242.5" y="346.5" width="4" height="39" fill="#dc5443" stroke="#5e150c" stroke-width="1"/>
<line x1="1250.5" y1="358" x2="1250.5" y2="388" stroke="#737375" stroke-width="1"/>
<rect x="1248.5" y="362.5" width="4" height="22" fill="#6aaa87" stroke="#1f5537" stroke-width="1"/>
<line x1="1257.5" y1="342" x2="1257.5" y2="372" stroke="#737375" stroke-width="1"/>
<rect x="1255.5" y="362.5" width="4" height="5" fill="#dc5443" stroke="#5e150c" stroke-width="1"/>
<line x1="1263.5" y1="361" x2="1263.5" y2="382" stroke="#737375" stroke-width="1"/>
<rect x="1261.5" y="367.5" width="4" height="2" fill="#dc5443" stroke="#5e150c" stroke-width="1"/>
<line x1="1269.5" y1="369" x2="1269.5" y2="408" stroke="#737375" stroke-width="1"/>
<rect x="1267.5" y="369.5" width="4" height="31" fill="#dc5443" stroke="#5e150c" stroke-width="1"/>
<line x1="1276.5" y1="386" x2="1276.5" y2="414" stroke="#737375" stroke-width="1"/>
<rect x="1274.5" y="398.5" width="4" height="2" fill="#6aaa87" stroke="#1f5537" stroke-width="1"/>
<line x1="1282.5" y1="391" x2="1282.5" y2="441" stroke="#737375" stroke-width="1"/>
<rect x="1280.5" y="401.5" width="4" height="31" fill="#dc5443" stroke="#5e150c" stroke-width="1"/>
<line x1="1288.5" y1="405" x2="1288.5" y2="446" stroke="#737375" stroke-width="1"/>
<rect x="1286.5" y="413.5" width="4" height="19" fill="#6aaa87" stroke="#1f5537" stroke-width="1"/>
<line x1="1295.5" y1="363" x2="1295.5" y2="417" stroke="#737375" stroke-width="1"/>
<rect x="1293.5" y="363.5" width="4" height="50" fill="#6aaa87" stroke="#1f5537" stroke-width="1"/>
<line x1="1301.5" y1="333" x2="1301.5" y2="365" stroke="#737375" stroke-width="1"/>
<rect x="1299.0" y="363" width="5" height="1" fill="#1f5537"/>
<line x1="1308.5" y1="354" x2="1308.5" y2="396" stroke="#737375" stroke-width="1"/>
<rect x="1306.0" y="363" width="5" height="1" fill="#5e150c"/>
<line x1="1314.5" y1="344" x2="1314.5" y2="374" stroke="#737375" stroke-width="1"/>
<rect x="1312.5" y="346.5" width="4" height="18" fill="#6aaa87" stroke="#1f5537" stroke-width="1"/>
<line x1="1320.5" y1="327" x2="1320.5" y2="355" stroke="#737375" stroke-width="1"/>
<rect x="1318.5" y="346.5" width="4" height="2" fill="#dc5443" stroke="#5e150c" stroke-width="1"/>
<line x1="1327.5" y1="341" x2="1327.5" y2="443" stroke="#737375" stroke-width="1"/>
<rect x="1325.5" y="348.5" width="4" height="84" fill="#dc5443" stroke="#5e150c" stroke-width="1"/>
<line x1="1333.5" y1="422" x2="1333.5" y2="464" stroke="#737375" stroke-width="1"/>
<rect x="1331.5" y="432.5" width="4" height="13" fill="#dc5443" stroke="#5e150c" stroke-width="1"/>
<line x1="1340.5" y1="442" x2="1340.5" y2="521" stroke="#737375" stroke-width="1"/>
<rect x="1338.5" y="445.5" width="4" height="64" fill="#dc5443" stroke="#5e150c" stroke-width="1"/>
<line x1="1346.5" y1="489" x2="1346.5" y2="523" stroke="#737375" stroke-width="1"/>
<rect x="1344.5" y="513.5" width="4" height="7" fill="#dc5443" stroke="#5e150c" stroke-width="1"/>
<line x1="1352.5" y1="498" x2="1352.5" y2="537" stroke="#737375" stroke-width="1"/>
<rect x="1350.5" y="520.5" width="4" height="4" fill="#dc5443" stroke="#5e150c" stroke-width="1"/>
<line x1="1359.5" y1="479" x2="1359.5" y2="533" stroke="#737375" stroke-width="1"/>
<rect x="1357.5" y="484.5" width="4" height="40" fill="#6aaa87" stroke="#1f5537" stroke-width="1"/>
<line x1="1365.5" y1="471" x2="1365.5" y2="507" stroke="#737375" stroke-width="1"/>
<rect x="1363.5" y="484.5" width="4" height="22" fill="#dc5443" stroke="#5e150c" stroke-width="1"/>
<line x1="1371.5" y1="480" x2="1371.5" y2="530" stroke="#737375" stroke-width="1"/>
<rect x="1369.5" y="499.5" width="4" height="7" fill="#6aaa87" stroke="#1f5537" stroke-width="1"/>
<line x1="1378.5" y1="485" x2="1378.5" y2="520" stroke="#737375" stroke-width="1"/>
<rect x="1376.5" y="496.5" width="4" height="2" fill="#dc5443" stroke="#5e150c" stroke-width="1"/>
<line x1="1384.5" y1="455" x2="1384.5" y2="509" stroke="#737375" stroke-width="1"/>
<rect x="1382.5" y="463.5" width="4" height="35" fill="#6aaa87" stroke="#1f5537" stroke-width="1"/>
<line x1="1391.5" y1="453" x2="1391.5" y2="480" stroke="#737375" stroke-width="1"/>
<rect x="1389.5" y="463.5" width="4" height="3" fill="#dc5443" stroke="#5e150c" stroke-width="1"/>
<line x1="3" y1="184.5" x2="1466" y2="184.5" stroke="#9296a6" stroke-width="1" stroke-dasharray="5 6"/>
</g>
<line x1="1403.5" y1="4" x2="1403.5" y2="806" stroke="#9296a6" stroke-width="1" stroke-dasharray="5 6"/>
<line x1="3" y1="685.5" x2="1526" y2="685.5" stroke="#d9dce8" stroke-width="1"/>
<line x1="3" y1="724.5" x2="1526" y2="724.5" stroke="#d9dce8" stroke-width="1"/>
<g clip-path="url(#atr)"><path d="M3.3 697.1 L7.9 698.7 L17.1 697.3 L30.3 696.4 L40.8 698.7 L52.7 700.5 L65.9 701.0 L76.4 697.7 L87.6 693.1 L98.8 696.7 L109.4 699.1 L119.9 695.8 L129.1 697.9 L137.0 697.1 L145.6 698.4 L151.5 689.2 L158.1 687.6 L171.3 692.2 L177.2 690.2 L183.8 692.5 L190.4 689.8 L197.1 692.2 L203.5 691.9 L209.9 694.4 L217.9 692.8 L224.4 693.8 L230.8 692.8 L238.8 695.1 L250.0 697.0 L259.6 700.2 L267.6 698.3 L275.6 698.6 L285.3 698.3 L292.3 701.5 L299.7 697.6 L307.7 695.4 L317.9 691.9 L323.7 694.4 L330.1 693.5 L339.7 696.7 L352.6 699.9 L362.2 700.8 L368.6 702.4 L375.0 698.3 L384.6 700.2 L394.2 703.4 L400.6 701.8 L410.3 703.4 L419.9 704.0 L426.3 703.4 L435.9 701.8 L442.3 701.8 L448.7 699.2 L455.1 700.2 L461.5 698.3 L471.2 700.2 L477.6 697.0 L480.0 697.0 L489.6 698.3 L496.7 699.9 L503.1 696.0 L510.4 697.0 L518.5 698.6 L528.1 699.2 L535.1 697.6 L540.9 700.5 L547.3 698.3 L554.4 694.4 L561.7 697.0 L568.1 699.2 L573.6 699.9 L580.0 699.2 L587.4 695.1 L592.8 696.0 L598.6 693.8 L605.0 689.6 L611.4 692.8 L621.0 695.1 L630.6 696.7 L637.1 699.2 L644.1 701.8 L649.9 691.9 L656.3 693.8 L663.3 694.4 L669.1 693.5 L677.1 695.1 L688.3 696.0 L697.9 698.6 L707.6 702.4 L714.0 701.8 L720.4 702.8 L728.4 699.9 L739.6 697.3 L746.0 697.6 L752.4 699.9 L758.8 700.5 L765.3 699.9 L771.7 702.4 L778.1 702.1 L784.5 697.6 L790.9 692.8 L797.3 689.9 L803.7 692.8 L810.1 693.1 L816.5 694.4 L822.9 694.4 L829.4 696.7 L835.8 701.8 L842.2 704.0 L848.6 701.8 L853.4 700.5 L861.4 702.1 L867.2 707.6 L872.6 704.7 L879.0 703.7 L886.4 704.7 L893.5 700.2 L901.5 701.5 L911.1 703.4 L919.1 703.4 L925.5 704.7 L931.9 707.6 L936.7 705.6 L943.1 707.2 L949.6 707.6 L956.0 709.8 L960.0 712.1 L969.6 708.2 L979.2 705.6 L988.8 705.0 L1000.1 707.2 L1011.3 703.4 L1020.3 699.2 L1027.3 699.9 L1036.9 703.4 L1046.5 706.3 L1052.9 708.2 L1059.4 708.8 L1065.1 706.9 L1070.6 708.2 L1083.4 709.2 L1091.4 711.7 L1097.2 710.4 L1102.6 712.1 L1109.7 710.4 L1117.1 713.0 L1129.9 715.6 L1136.3 715.9 L1144.3 715.9 L1152.3 717.8 L1160.3 719.7 L1168.3 717.8 L1174.7 715.9 L1179.6 715.3 L1187.6 717.2 L1198.8 718.8 L1205.2 717.5 L1214.8 719.7 L1224.4 721.0 L1235.6 715.9 L1243.7 714.6 L1254.9 717.2 L1262.9 719.1 L1269.3 719.4 L1275.7 720.4 L1282.1 719.4 L1288.5 719.1 L1294.9 717.5 L1301.3 718.1 L1309.4 717.8 L1319.6 720.1 L1327.0 713.3 L1333.4 713.0 L1339.8 709.5 L1346.2 710.8 L1352.6 711.1 L1359.0 710.1 L1365.4 711.1 L1371.9 710.4 L1378.3 711.4 L1384.7 710.4 L1390.4 712.4" fill="none" stroke="#c62f2f" stroke-width="1.1" stroke-linejoin="round"/></g>
<g clip-path="url(#cci)">
<rect x="3" y="757" width="1463" height="26.5" fill="#2196f3" fill-opacity="0.1"/>
<line x1="3" y1="757.5" x2="1466" y2="757.5" stroke="#5a5c66" stroke-width="1" stroke-dasharray="5 6"/>
<line x1="3" y1="770.5" x2="1466" y2="770.5" stroke="#8f929c" stroke-width="1" stroke-dasharray="5 6"/>
<line x1="3" y1="783.5" x2="1466" y2="783.5" stroke="#5a5c66" stroke-width="1" stroke-dasharray="5 6"/>
<path d="M3.2 761.7 L11.2 758.5 L24.0 765.9 L36.9 765.3 L48.1 771.3 L55.1 772.9 L68.9 751.2 L75.3 747.3 L84.0 731.3 L88.1 728.7 L97.8 739.3 L109.0 751.2 L120.2 760.1 L128.2 764.0 L137.8 768.8 L145.8 767.2 L157.1 774.6 L165.1 774.6 L174.7 780.0 L182.7 783.5 L190.7 778.4 L196.2 778.7 L203.5 781.6 L209.9 779.4 L215.7 776.2 L227.6 784.8 L234.0 784.2 L242.0 788.0 L253.2 789.6 L259.6 784.2 L272.4 788.0 L278.8 788.0 L285.3 789.9 L291.7 787.4 L298.1 780.0 L304.5 769.7 L309.3 772.9 L317.3 784.8 L323.7 787.4 L331.7 792.8 L342.9 792.2 L355.8 782.6 L362.2 781.0 L368.6 781.0 L375.0 787.4 L381.4 786.7 L387.8 782.6 L394.2 780.3 L400.6 781.0 L407.1 784.2 L413.5 784.2 L419.9 788.0 L426.3 789.9 L433.3 796.0 L445.5 783.5 L451.9 790.6 L457.7 792.2 L471.2 781.0 L479.2 776.8 L483.8 776.2 L489.6 771.3 L496.7 767.2 L503.1 773.6 L510.4 780.0 L516.9 774.6 L522.3 769.7 L528.7 772.3 L535.1 764.9 L541.5 759.5 L547.9 746.0 L554.4 753.1 L560.8 764.0 L567.2 772.9 L573.6 768.8 L580.0 760.8 L586.4 759.5 L592.8 776.2 L599.2 755.3 L605.0 738.0 L612.1 737.7 L617.8 749.9 L624.2 753.1 L630.6 756.9 L637.1 759.5 L644.1 758.8 L649.9 743.5 L654.7 743.5 L663.3 747.3 L669.1 747.9 L676.2 747.3 L682.6 752.1 L688.3 756.9 L697.9 757.6 L704.4 757.6 L714.0 756.3 L720.4 756.9 L726.8 762.4 L733.2 767.2 L739.6 770.7 L746.0 775.2 L752.4 780.0 L758.8 780.0 L765.3 785.1 L771.0 786.7 L777.4 781.9 L783.8 773.6 L790.3 758.5 L797.3 762.7 L803.1 764.6 L810.1 759.2 L816.5 761.1 L822.9 757.6 L828.7 755.6 L835.1 756.9 L842.2 755.6 L848.6 751.2 L854.4 753.1 L861.4 757.6 L867.8 760.1 L874.2 767.2 L880.0 771.7 L886.4 771.0 L893.5 772.9 L899.2 773.3 L905.6 777.4 L912.7 775.2 L918.5 773.3 L925.5 775.5 L931.3 777.8 L937.7 787.4 L944.1 789.9 L951.2 786.4 L957.6 783.2 L963.3 781.9 L960.0 782.6 L963.8 781.9 L969.6 785.1 L976.0 781.0 L982.4 785.1 L988.8 785.1 L995.3 788.3 L1001.7 784.2 L1008.1 783.5 L1014.5 781.6 L1020.9 785.8 L1027.3 795.7 L1033.7 792.8 L1040.1 787.4 L1046.5 785.1 L1052.9 781.9 L1059.4 781.6 L1065.1 787.4 L1070.6 787.4 L1078.6 778.7 L1085.0 776.8 L1091.4 773.9 L1097.8 768.1 L1104.2 764.0 L1110.0 758.5 L1116.4 761.1 L1122.8 756.3 L1128.3 755.6 L1134.7 760.1 L1141.1 761.7 L1147.5 760.1 L1153.9 755.6 L1160.3 755.3 L1166.7 750.5 L1174.1 745.7 L1179.6 745.1 L1186.0 750.5 L1192.4 753.7 L1198.8 752.4 L1205.2 760.1 L1211.6 764.9 L1218.0 767.2 L1224.4 772.3 L1230.8 765.6 L1236.3 767.5 L1244.6 783.2 L1250.1 782.6 L1256.5 779.4 L1262.9 782.6 L1269.3 788.3 L1275.7 789.0 L1282.1 791.5 L1288.5 785.8 L1294.9 777.8 L1301.3 771.3 L1307.8 773.9 L1314.2 769.1 L1319.0 765.9 L1325.4 782.6 L1333.4 793.8 L1339.8 799.6 L1346.2 797.0 L1352.6 792.8 L1359.0 787.4 L1365.4 784.2 L1371.9 783.2 L1378.3 780.3 L1384.7 776.2 L1390.4 774.6" fill="none" stroke="#2f6bff" stroke-width="1.1" stroke-linejoin="round"/>
</g>
<line x1="1466.5" y1="4" x2="1466.5" y2="833" stroke="#3d4047" stroke-width="1"/>
<g clip-path="url(#axis1)">
<text x="1474.4" y="24.3" font-size="12" fill="#50535e" font-weight="normal" text-anchor="start" textLength="41.6" lengthAdjust="spacingAndGlyphs" >1.13000</text>
<text x="1474.4" y="61.3" font-size="12" fill="#50535e" font-weight="normal" text-anchor="start" textLength="41.6" lengthAdjust="spacingAndGlyphs" >1.12500</text>
<text x="1474.4" y="98.3" font-size="12" fill="#50535e" font-weight="normal" text-anchor="start" textLength="41.6" lengthAdjust="spacingAndGlyphs" >1.12000</text>
<text x="1474.4" y="135.3" font-size="12" fill="#50535e" font-weight="normal" text-anchor="start" textLength="41.6" lengthAdjust="spacingAndGlyphs" >1.11500</text>
<text x="1474.4" y="172.3" font-size="12" fill="#50535e" font-weight="normal" text-anchor="start" textLength="41.6" lengthAdjust="spacingAndGlyphs" >1.11000</text>
<text x="1474.4" y="209.3" font-size="12" fill="#50535e" font-weight="normal" text-anchor="start" textLength="41.6" lengthAdjust="spacingAndGlyphs" >1.10500</text>
<text x="1474.4" y="246.3" font-size="12" fill="#50535e" font-weight="normal" text-anchor="start" textLength="41.6" lengthAdjust="spacingAndGlyphs" >1.10000</text>
<text x="1474.4" y="283.3" font-size="12" fill="#50535e" font-weight="normal" text-anchor="start" textLength="41.6" lengthAdjust="spacingAndGlyphs" >1.09500</text>
<text x="1474.4" y="320.3" font-size="12" fill="#50535e" font-weight="normal" text-anchor="start" textLength="41.6" lengthAdjust="spacingAndGlyphs" >1.09000</text>
<text x="1474.4" y="357.3" font-size="12" fill="#50535e" font-weight="normal" text-anchor="start" textLength="41.6" lengthAdjust="spacingAndGlyphs" >1.08500</text>
<text x="1474.4" y="394.3" font-size="12" fill="#50535e" font-weight="normal" text-anchor="start" textLength="41.6" lengthAdjust="spacingAndGlyphs" >1.08000</text>
<text x="1474.4" y="431.3" font-size="12" fill="#50535e" font-weight="normal" text-anchor="start" textLength="41.6" lengthAdjust="spacingAndGlyphs" >1.07500</text>
<text x="1474.4" y="468.3" font-size="12" fill="#50535e" font-weight="normal" text-anchor="start" textLength="41.6" lengthAdjust="spacingAndGlyphs" >1.07000</text>
<text x="1474.4" y="505.3" font-size="12" fill="#50535e" font-weight="normal" text-anchor="start" textLength="41.6" lengthAdjust="spacingAndGlyphs" >1.06500</text>
<text x="1474.4" y="542.3" font-size="12" fill="#50535e" font-weight="normal" text-anchor="start" textLength="41.6" lengthAdjust="spacingAndGlyphs" >1.06000</text>
<text x="1474.4" y="579.3" font-size="12" fill="#50535e" font-weight="normal" text-anchor="start" textLength="41.6" lengthAdjust="spacingAndGlyphs" >1.05500</text>
<text x="1474.4" y="616.3" font-size="12" fill="#50535e" font-weight="normal" text-anchor="start" textLength="41.6" lengthAdjust="spacingAndGlyphs" >1.05000</text>
<text x="1474.4" y="653.3" font-size="12" fill="#50535e" font-weight="normal" text-anchor="start" textLength="41.6" lengthAdjust="spacingAndGlyphs" >1.04500</text>
<path d="M1466 29.9 H1520 a2 2 0 0 1 2 2 V44.9 a2 2 0 0 1 -2 2 H1466 Z" fill="#000"/>
<text x="1474.5" y="42.699999999999996" font-size="12" fill="#fff" font-weight="bold" text-anchor="start" textLength="41.5" lengthAdjust="spacingAndGlyphs" >1.12757</text>
<path d="M1466 97.1 H1520 a2 2 0 0 1 2 2 V112.1 a2 2 0 0 1 -2 2 H1466 Z" fill="#000"/>
<text x="1474.5" y="109.89999999999999" font-size="12" fill="#fff" font-weight="bold" text-anchor="start" textLength="41.5" lengthAdjust="spacingAndGlyphs" >1.11848</text>
<path d="M1466 129.2 H1520 a2 2 0 0 1 2 2 V144.2 a2 2 0 0 1 -2 2 H1466 Z" fill="#000"/>
<text x="1474.5" y="142.0" font-size="12" fill="#fff" font-weight="bold" text-anchor="start" textLength="41.5" lengthAdjust="spacingAndGlyphs" >1.11392</text>
<path d="M1466 146.0 H1520 a2 2 0 0 1 2 2 V161.0 a2 2 0 0 1 -2 2 H1466 Z" fill="#000"/>
<text x="1474.5" y="158.8" font-size="12" fill="#fff" font-weight="bold" text-anchor="start" textLength="41.5" lengthAdjust="spacingAndGlyphs" >1.11183</text>
<path d="M1466 162.0 H1520 a2 2 0 0 1 2 2 V177.0 a2 2 0 0 1 -2 2 H1466 Z" fill="#000"/>
<text x="1474.5" y="174.8" font-size="12" fill="#fff" font-weight="bold" text-anchor="start" textLength="41.5" lengthAdjust="spacingAndGlyphs" >1.10956</text>
<path d="M1466 391.5 H1520 a2 2 0 0 1 2 2 V406.5 a2 2 0 0 1 -2 2 H1466 Z" fill="#000"/>
<text x="1474.5" y="404.3" font-size="12" fill="#fff" font-weight="bold" text-anchor="start" textLength="41.5" lengthAdjust="spacingAndGlyphs" >1.07874</text>
<path d="M1466 457.0 H1520 a2 2 0 0 1 2 2 V472.0 a2 2 0 0 1 -2 2 H1466 Z" fill="#000"/>
<text x="1474.5" y="469.8" font-size="12" fill="#fff" font-weight="bold" text-anchor="start" textLength="41.5" lengthAdjust="spacingAndGlyphs" >1.06988</text>
<path d="M1466 504.20000000000005 H1520 a2 2 0 0 1 2 2 V519.2 a2 2 0 0 1 -2 2 H1466 Z" fill="#000"/>
<text x="1474.5" y="517.0" font-size="12" fill="#fff" font-weight="bold" text-anchor="start" textLength="41.5" lengthAdjust="spacingAndGlyphs" >1.06350</text>
<path d="M1466 592.1 H1520 a2 2 0 0 1 2 2 V607.1 a2 2 0 0 1 -2 2 H1466 Z" fill="#000"/>
<text x="1474.5" y="604.9" font-size="12" fill="#fff" font-weight="bold" text-anchor="start" textLength="41.5" lengthAdjust="spacingAndGlyphs" >1.05161</text>
<path d="M1466 642.0 H1520 a2 2 0 0 1 2 2 V657.0 a2 2 0 0 1 -2 2 H1466 Z" fill="#000"/>
<text x="1474.5" y="654.8" font-size="12" fill="#fff" font-weight="bold" text-anchor="start" textLength="41.5" lengthAdjust="spacingAndGlyphs" >1.04481</text>
<path d="M1466 174.05 H1520 a2 2 0 0 1 2 2 V192.75 a2 2 0 0 1 -2 2 H1466 Z" fill="#131722"/>
<text x="1474.5" y="188.70000000000002" font-size="12" fill="#fff" font-weight="bold" text-anchor="start" textLength="41.5" lengthAdjust="spacingAndGlyphs" >1.10783</text>
</g>
<g clip-path="url(#axis2)">
<text x="1474.4" y="726.7" font-size="12" fill="#50535e" font-weight="normal" text-anchor="start" textLength="41.6" lengthAdjust="spacingAndGlyphs" >0.00500</text>
</g>
<g clip-path="url(#axis3)">
<text x="1475" y="741.5" font-size="12" fill="#50535e" font-weight="normal" text-anchor="start" textLength="35.5" lengthAdjust="spacingAndGlyphs" >250.00</text>
<text x="1475" y="774.7" font-size="12" fill="#50535e" font-weight="normal" text-anchor="start" textLength="23.5" lengthAdjust="spacingAndGlyphs" >0.00</text>
<text x="1470.5" y="806.5" font-size="12" fill="#50535e" font-weight="normal" text-anchor="start" textLength="42" lengthAdjust="spacingAndGlyphs" >−250.00</text>
</g>
<line x1="3" y1="805.5" x2="1526" y2="805.5" stroke="#33363d" stroke-width="1"/>
<text x="37.5" y="823.1" font-size="11.2" fill="#50535e" font-weight="normal" text-anchor="middle" >Jul</text>
<text x="171.5" y="823.1" font-size="11.2" fill="#50535e" font-weight="normal" text-anchor="middle" >Aug</text>
<text x="318.5" y="823.1" font-size="11.2" fill="#50535e" font-weight="normal" text-anchor="middle" >Sep</text>
<text x="452.5" y="823.1" font-size="11.2" fill="#50535e" font-weight="normal" text-anchor="middle" >Oct</text>
<text x="593.5" y="823.1" font-size="11.2" fill="#50535e" font-weight="normal" text-anchor="middle" >Nov</text>
<text x="733.5" y="823.1" font-size="11.2" fill="#50535e" font-weight="normal" text-anchor="middle" >Dec</text>
<text x="867.5" y="823.1" font-size="12" fill="#4a4d57" font-weight="bold" text-anchor="middle" >2024</text>
<text x="1014.5" y="823.1" font-size="11.2" fill="#50535e" font-weight="normal" text-anchor="middle" >Feb</text>
<text x="1148.5" y="823.1" font-size="11.2" fill="#50535e" font-weight="normal" text-anchor="middle" >Mar</text>
<text x="1282.5" y="823.1" font-size="11.2" fill="#50535e" font-weight="normal" text-anchor="middle" >Apr</text>
<path d="M1359 806 H1448 V826.5 a2 2 0 0 1 -2 2 H1361 a2 2 0 0 1 -2 -2 Z" fill="#131722"/>
<text x="1403" y="823.8" font-size="12" fill="#fff" font-weight="bold" text-anchor="middle" textLength="71" lengthAdjust="spacingAndGlyphs" >Fri 26 Apr '24</text>
<g fill="none" stroke="#131722" stroke-width="1.2"><path d="M1489.5 819.5 l3.6 -6.2 h7.3 l3.6 6.2 l-3.6 6.2 h-7.3 z"/><circle cx="1496.8" cy="819.5" r="2.3"/></g>
<rect x="1467" y="4" width="59" height="34" fill="#fff"/>
<rect x="1382.5" y="8.5" width="23" height="23" rx="4" fill="#fff" stroke="#e0e3eb"/>
<rect x="1410.5" y="8.5" width="23" height="23" rx="4" fill="#fff" stroke="#e0e3eb"/>
<rect x="1438.5" y="8.5" width="23" height="23" rx="4" fill="#fff" stroke="#e0e3eb"/>
<rect x="1470.5" y="8.5" width="51" height="25" rx="4" fill="#fff" stroke="#e0e3eb"/>
<g fill="none" stroke="#131722" stroke-width="1.2" stroke-linecap="round" stroke-linejoin="round">
<path d="M1394.5 15.5 V25 M1390.5 21.5 L1394.5 25.5 L1398.5 21.5"/>
<path d="M1418.5 15 L1422.5 18.5 L1426.5 15 M1418.5 26 L1422.5 22.5 L1426.5 26"/>
<path d="M1448 15.5 h4.5 a2.5 2.5 0 0 1 2.5 2.5 v1 M1455 22 v1 a2.5 2.5 0 0 1 -2.5 2.5 h-5 a2.5 2.5 0 0 1 -2.5 -2.5 v-1 M1445 19 v-1 a2.5 2.5 0 0 1 2.5 -2.5 h1"/>
<path d="M1511.5 20 L1514.5 23 L1517.5 20"/>
</g>
<text x="1474.5" y="25" font-size="12" fill="#131722" font-weight="normal" text-anchor="start" textLength="20.5" lengthAdjust="spacingAndGlyphs" >USD</text>
<rect x="3" y="4" width="164" height="33" fill="#fff" fill-opacity="0.5"/>
<line x1="3" y1="38" x2="167" y2="38" stroke="#a9abb0" stroke-width="2"/>
<line x1="3" y1="38" x2="6.5" y2="38" stroke="#555" stroke-width="2"/>
<rect x="7" y="38" width="160" height="24" fill="#fff" fill-opacity="0.5"/>
<rect x="7" y="62" width="566" height="26" fill="#fff" fill-opacity="0.5"/>
<rect x="7" y="691" width="135" height="24" fill="#fff" fill-opacity="0.5"/>
<rect x="7" y="730" width="160" height="24" fill="#fff" fill-opacity="0.5"/>
<circle cx="24.2" cy="17" r="5.9" fill="#fff"/>
<g><clipPath id="us"><circle cx="24.2" cy="17" r="5.9"/></clipPath><g clip-path="url(#us)"><rect x="18" y="11" width="13" height="12" fill="#fff"/><rect x="18" y="11.1" width="13" height="1.7" fill="#f23645"/><rect x="18" y="14.5" width="13" height="1.7" fill="#f23645"/><rect x="18" y="17.9" width="13" height="1.7" fill="#f23645"/><rect x="18" y="21.3" width="13" height="1.7" fill="#f23645"/><rect x="18" y="11" width="6.4" height="6.6" fill="#4a86e8"/></g></g>
<circle cx="18" cy="22.9" r="7" fill="#fff"/><circle cx="18" cy="22.9" r="6.1" fill="#1c50b8"/>
<circle cx="21.60" cy="22.90" r="0.65" fill="#ffca28"/>
<circle cx="20.55" cy="25.45" r="0.65" fill="#ffca28"/>
<circle cx="18.00" cy="26.50" r="0.65" fill="#ffca28"/>
<circle cx="15.45" cy="25.45" r="0.65" fill="#ffca28"/>
<circle cx="14.40" cy="22.90" r="0.65" fill="#ffca28"/>
<circle cx="15.45" cy="20.35" r="0.65" fill="#ffca28"/>
<circle cx="18.00" cy="19.30" r="0.65" fill="#ffca28"/>
<circle cx="20.55" cy="20.35" r="0.65" fill="#ffca28"/>
<text x="34" y="25.8" font-size="15.5" fill="#555a64" font-weight="normal" text-anchor="start" textLength="207.5" lengthAdjust="spacingAndGlyphs" >Euro / U.S. Dollar · 1D · FXCM</text>
<circle cx="265.9" cy="19.8" r="9" fill="#089981" fill-opacity="0.18"/><circle cx="265.9" cy="19.8" r="4" fill="#089981"/>
<text x="291.1" y="25.2" font-size="12" fill="#555a64" font-weight="normal" text-anchor="start" textLength="8.6" lengthAdjust="spacingAndGlyphs" >O</text>
<text x="301.2" y="25.2" font-size="12" fill="#6e2f2b" font-weight="normal" text-anchor="start" textLength="43.1" lengthAdjust="spacingAndGlyphs" >1.07011</text>
<text x="353" y="25.2" font-size="12" fill="#555a64" font-weight="normal" text-anchor="start" textLength="8" lengthAdjust="spacingAndGlyphs" >H</text>
<text x="362.3" y="25.2" font-size="12" fill="#6e2f2b" font-weight="normal" text-anchor="start" textLength="43.9" lengthAdjust="spacingAndGlyphs" >1.07142</text>
<text x="414.1" y="25.2" font-size="12" fill="#555a64" font-weight="normal" text-anchor="start" textLength="6" lengthAdjust="spacingAndGlyphs" >L</text>
<text x="421.6" y="25.2" font-size="12" fill="#6e2f2b" font-weight="normal" text-anchor="start" textLength="44.7" lengthAdjust="spacingAndGlyphs" >1.06780</text>
<text x="473.1" y="25.2" font-size="12" fill="#555a64" font-weight="normal" text-anchor="start" textLength="7.3" lengthAdjust="spacingAndGlyphs" >C</text>
<text x="481.7" y="25.2" font-size="12" fill="#6e2f2b" font-weight="normal" text-anchor="start" textLength="44.2" lengthAdjust="spacingAndGlyphs" >1.06971</text>
<text x="533.5" y="25.2" font-size="12" fill="#6e2f2b" font-weight="normal" text-anchor="start" textLength="50.8" lengthAdjust="spacingAndGlyphs" >−0.00040</text>
<text x="591.1" y="25.2" font-size="12" fill="#6e2f2b" font-weight="normal" text-anchor="start" textLength="47.2" lengthAdjust="spacingAndGlyphs" >(−0.04%)</text>
<rect x="11.6" y="36.6" width="60" height="22.7" rx="4" fill="#fff" stroke="#f23645" stroke-width="1.1"/>
<rect x="103.6" y="36.6" width="60" height="22.7" rx="4" fill="#fff" stroke="#2962ff" stroke-width="1.1"/>
<text x="19.6" y="52.6" font-size="12" fill="#f23645" font-weight="normal" text-anchor="start" textLength="36" lengthAdjust="spacingAndGlyphs" >1.0697</text>
<text x="56" y="49.8" font-size="10.5" fill="#f23645" font-weight="normal" text-anchor="start" >1</text>
<text x="111.6" y="52.6" font-size="12" fill="#2962ff" font-weight="normal" text-anchor="start" textLength="36" lengthAdjust="spacingAndGlyphs" >1.0697</text>
<text x="148" y="49.8" font-size="10.5" fill="#2962ff" font-weight="normal" text-anchor="start" >3</text>
<text x="87.4" y="52.4" font-size="11" fill="#131722" font-weight="normal" text-anchor="middle" textLength="15" lengthAdjust="spacingAndGlyphs" >0.2</text>
<text x="11.8" y="79.9" font-size="12" fill="#555a64" font-weight="normal" text-anchor="start" textLength="383" lengthAdjust="spacingAndGlyphs" >MA Ribbon SMA close 20 SMA close 50 SMA close 100 SMA close 200</text>
<text x="403" y="79.9" font-size="12" fill="#f23645" font-weight="normal" text-anchor="start" textLength="44.5" lengthAdjust="spacingAndGlyphs" >1.07341</text>
<text x="455" y="79.9" font-size="12" fill="#2962ff" font-weight="normal" text-anchor="start" textLength="44.5" lengthAdjust="spacingAndGlyphs" >1.08066</text>
<g fill="none" stroke="#131722" stroke-width="1"><circle cx="511.6" cy="76" r="3.1"/><path d="M508.8 80.3 L514.4 71.7"/></g>
<text x="521" y="79.9" font-size="12" fill="#131722" font-weight="normal" text-anchor="start" textLength="44.5" lengthAdjust="spacingAndGlyphs" >1.08092</text>
<rect x="12.7" y="90.7" width="27.6" height="19.6" rx="3" fill="#fff" fill-opacity="0.9" stroke="#d1d4dc"/>
<path d="M22.7 102.7 L26.5 99 L30.3 102.7" fill="none" stroke="#131722" stroke-width="1.2" stroke-linecap="round" stroke-linejoin="round"/>
<text x="12.1" y="706.8" font-size="12" fill="#555a64" font-weight="normal" text-anchor="start" textLength="67.5" lengthAdjust="spacingAndGlyphs" >ATR 14 RMA</text>
<text x="87.8" y="706.8" font-size="12" fill="#c62828" font-weight="normal" text-anchor="start" textLength="45" lengthAdjust="spacingAndGlyphs" >0.00586</text>
<text x="12.1" y="745.8" font-size="12" fill="#555a64" font-weight="normal" text-anchor="start" textLength="102" lengthAdjust="spacingAndGlyphs" >CCI 20 hlc3 SMA 5</text>
<text x="122.5" y="745.8" font-size="12" fill="#2962ff" font-weight="normal" text-anchor="start" textLength="38.5" lengthAdjust="spacingAndGlyphs" >−36.40</text>
<g transform="translate(15.2,776.1) scale(0.822,0.806)" fill="#000"><path d="M14 18H7V7H0V0h14z"/><circle cx="20" cy="4" r="4"/><path d="M28 18h-8L27.5 0h8z"/></g>
<g filter="url(#ws)" fill="#fff" stroke="#fff" stroke-width="2.6" stroke-linejoin="round" opacity="0.82">
<g transform="translate(1296.5,742) skewX(-13) scale(0.87,1)">
<polygon points="6,3 17,3 15,15 4,15"/>
<polygon points="1,19 12,19 10,31 -1,31"/>
<polygon points="-3,55 7,55 16,36 6,36"/>
<polygon points="20,0 29,0 24,16 15,16"/>
<polygon points="24,2 58,2 58,9.5 24,9.5"/>
<polygon points="18,12 56,12 56,20 18,20"/>
<polygon points="18,12 26,12 26,47 18,47"/>
<polygon points="48,12 56,12 56,55 48,55"/>
<polygon points="9,28.7 60,28.7 60,37.2 9,37.2"/>
<polygon points="16,46.6 56,46.6 56,55 16,55"/>
</g>
<g transform="translate(1358,742) skewX(-13) scale(0.87,1)">
<polygon points="10,4 46,4 46,11 10,11"/>
<polygon points="12,11 20,11 20,30 12,30"/>
<polygon points="6,24 52,24 52,31 6,31"/>
<polygon points="50,0 59,0 59,55 50,55"/>
<polygon points="0,38 44,38 44,45 0,45"/>
<polygon points="26,48 58,48 58,55 26,55"/>
</g>
<g transform="translate(1414,742) skewX(-13) scale(0.87,1)">
<polygon points="2,8 10,8 10,40 2,40"/>
<polygon points="2,8 26,8 26,15 2,15"/>
<polygon points="18,8 26,8 26,40 18,40"/>
<polygon points="2,22 26,22 26,27 2,27"/>
<polygon points="2,34 26,34 26,40 2,40"/>
<polygon points="-2,55 7,55 12,40 3,40"/>
<polygon points="16,40 24,40 30,55 21,55"/>
<polygon points="28,12 60,12 60,19 28,19"/>
<polygon points="44,0 53,0 53,55 44,55"/>
<polygon points="40,19 48,19 34,46 26,46"/>
</g>
<g transform="translate(1477,742) skewX(-13) scale(0.87,1)">
<polygon points="10,0 19,0 6,18 -3,18"/>
<polygon points="16,12 25,12 8,34 -1,34"/>
<polygon points="-2,28 22,28 22,34 -2,34"/>
<polygon points="-4,50 22,42 22,49 -4,56"/>
<polygon points="28,3 58,3 58,10 28,10"/>
<polygon points="46,10 56,10 34,30 24,30"/>
<polygon points="36,18 44,14 60,28 52,32"/>
<polygon points="28,34 58,34 58,40 28,40"/>
<polygon points="40,40 48,40 48,50 40,50"/>
<polygon points="24,48 60,48 60,55 24,55"/>
</g>
</g>
<g font-weight="bold" font-style="italic" fill="#4646b8" stroke="#4646b8" stroke-width="1.2" stroke-linejoin="round" opacity="0.22" text-anchor="middle">
<text transform="translate(1305.9,831.6) scale(1.18,1)" font-size="33">z</text>
<text transform="translate(1332.4,831.6) scale(1.18,1)" font-size="33">z</text>
<text transform="translate(1360.5,831.6) scale(1.18,1)" font-size="33">r</text>
<text transform="translate(1383.0,831.6) scale(1.18,1)" font-size="32">t</text>
<text transform="translate(1404.8,831.6) scale(1.18,1)" font-size="32">0</text>
<text transform="translate(1437.0,831.6) scale(1.18,1)" font-size="32">1</text>
<text transform="translate(1457.5,831.6) scale(1.18,1)" font-size="33">.</text>
<text transform="translate(1481.5,831.6) scale(1.18,1)" font-size="33">c</text>
<text transform="translate(1508.3,831.6) scale(1.18,1)" font-size="33">n</text>
</g>
<g font-weight="bold" font-style="italic" fill="#1a8cff" stroke="#1a8cff" stroke-width="1.2" stroke-linejoin="round" opacity="0.5" text-anchor="middle">
<text transform="translate(1304.4,830) scale(1.18,1)" font-size="33">z</text>
<text transform="translate(1330.9,830) scale(1.18,1)" font-size="33">z</text>
<text transform="translate(1359,830) scale(1.18,1)" font-size="33">r</text>
<text transform="translate(1381.5,830) scale(1.18,1)" font-size="32">t</text>
<text transform="translate(1403.3,830) scale(1.18,1)" font-size="32">0</text>
<text transform="translate(1435.5,830) scale(1.18,1)" font-size="32">1</text>
<text transform="translate(1456,830) scale(1.18,1)" font-size="33">.</text>
<text transform="translate(1480,830) scale(1.18,1)" font-size="33">c</text>
<text transform="translate(1506.8,830) scale(1.18,1)" font-size="33">n</text>
</g>
</svg></body></html>
